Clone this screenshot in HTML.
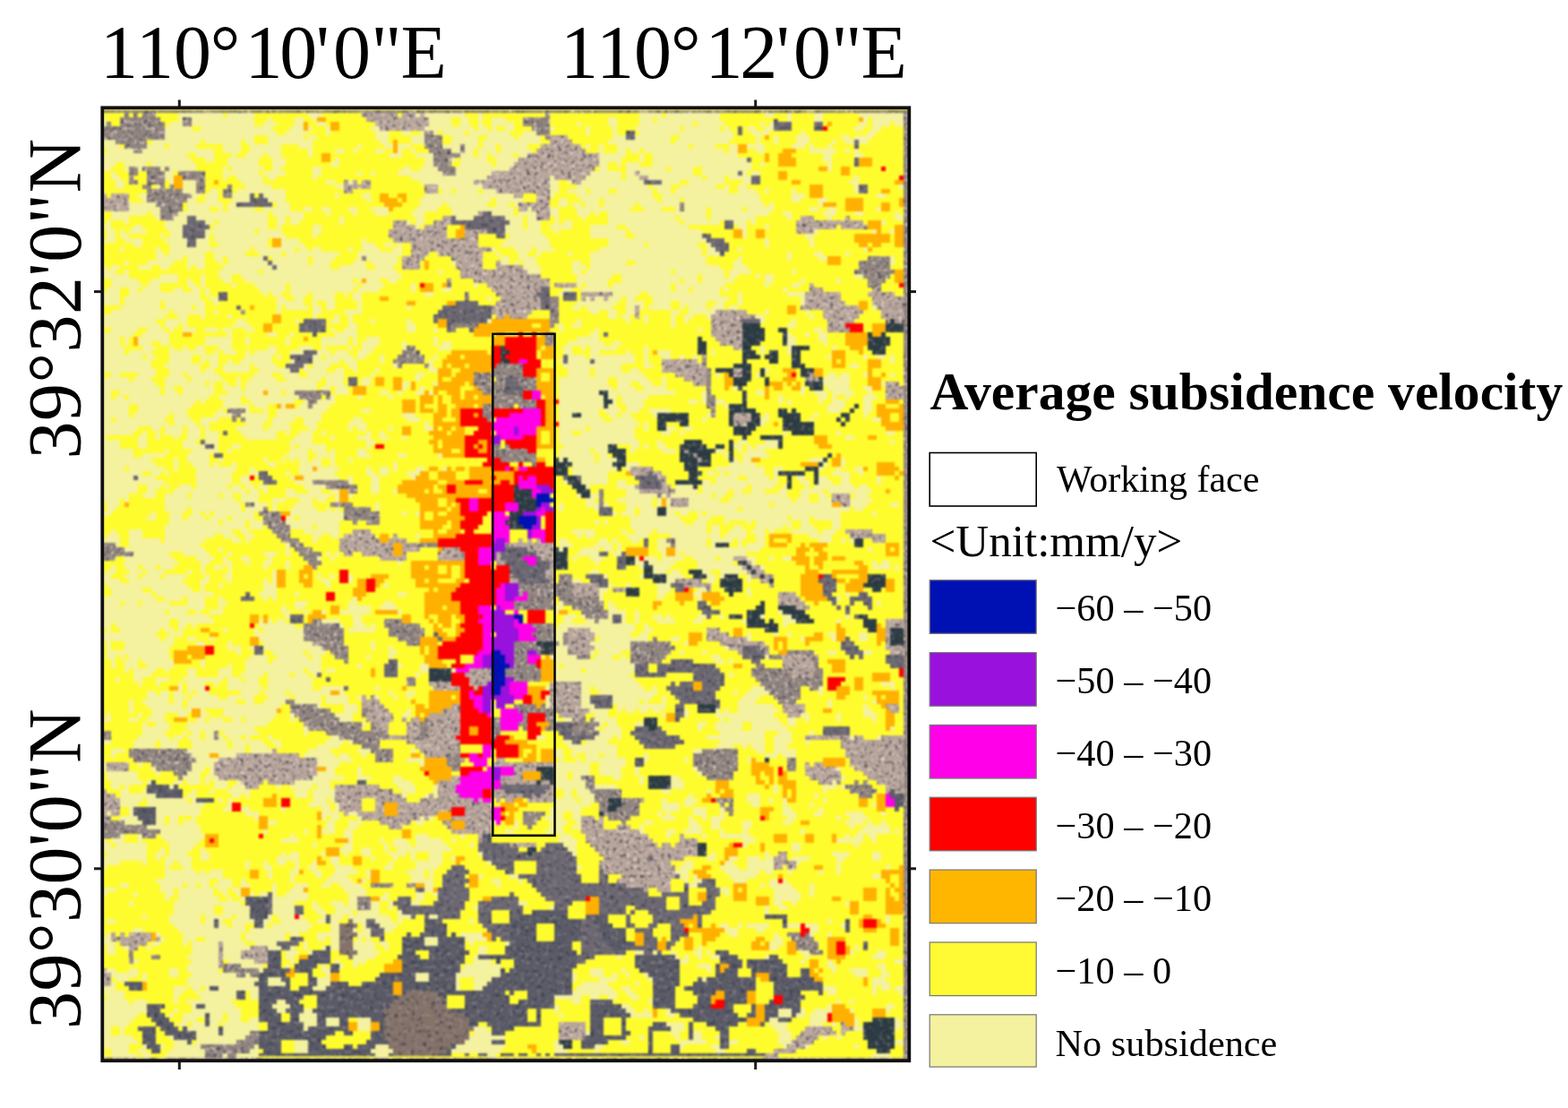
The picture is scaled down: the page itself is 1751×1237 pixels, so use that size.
<!DOCTYPE html>
<html lang="en">
<head>
<meta charset="utf-8">
<title>Average subsidence velocity</title>
<style>
html,body{margin:0;padding:0;background:#fff;}
body{width:1751px;height:1237px;overflow:hidden;}
svg{display:block;}
text{font-family:"Liberation Serif",serif;fill:#000;}
</style>
</head>
<body>
<svg width="1751" height="1237" viewBox="0 0 1751 1237">
<rect x="0" y="0" width="1751" height="1237" fill="#ffffff"/>
<defs>
<filter id="tex" x="0" y="0" width="100%" height="100%" color-interpolation-filters="sRGB">
<feTurbulence type="fractalNoise" baseFrequency="0.26" numOctaves="2" seed="11" result="n"/>
<feColorMatrix in="n" type="matrix" values="0 0 0 0 0.92  0 0 0 0 0.84  0 0 0 0 0.80  3.6 0 0 0 -1.95" result="lt"/>
<feComposite in="lt" in2="SourceGraphic" operator="in" result="l1"/>
<feColorMatrix in="n" type="matrix" values="0 0 0 0 0.22  0 0 0 0 0.23  0 0 0 0 0.28  0 3.6 0 0 -2.0" result="dk"/>
<feComposite in="dk" in2="SourceGraphic" operator="in" result="d1"/>
<feMerge><feMergeNode in="SourceGraphic"/><feMergeNode in="l1"/><feMergeNode in="d1"/></feMerge>
</filter>
<filter id="tex2" x="0" y="0" width="100%" height="100%" color-interpolation-filters="sRGB">
<feTurbulence type="fractalNoise" baseFrequency="0.22" numOctaves="2" seed="23" result="n"/>
<feColorMatrix in="n" type="matrix" values="0 0 0 0 0.62  0 0 0 0 0.58  0 0 0 0 0.58  2.6 0 0 0 -1.45" result="lt"/>
<feComposite in="lt" in2="SourceGraphic" operator="in" result="l1"/>
<feColorMatrix in="n" type="matrix" values="0 0 0 0 0.16  0 0 0 0 0.17  0 0 0 0 0.24  0 2.6 0 0 -1.45" result="dk"/>
<feComposite in="dk" in2="SourceGraphic" operator="in" result="d1"/>
<feMerge><feMergeNode in="SourceGraphic"/><feMergeNode in="l1"/><feMergeNode in="d1"/></feMerge>
</filter>
<filter id="soft" x="-1%" y="-1%" width="102%" height="102%" color-interpolation-filters="sRGB">
<feGaussianBlur stdDeviation="0.9"/>
</filter>
<clipPath id="mapclip"><rect x="114.3" y="120.3" width="901" height="1064.5"/></clipPath>
</defs>
<!-- axis labels -->
<text x="111.9 152.0 193.9 234.8 273.6 312.2 352.7 372.0 414.3 447.4" y="87" font-size="84">110°10'0"E</text>
<text x="625.9 666.1 707.9 748.9 787.6 826.3 866.7 886.0 928.3 961.4" y="87" font-size="84">110°12'0"E</text>
<text transform="translate(90,512.5) rotate(-90)" font-size="84" letter-spacing="0.5">39°32'0"N</text>
<text transform="translate(90,1149) rotate(-90)" font-size="84" letter-spacing="0.5">39°30'0"N</text>
<!-- map -->
<g id="map" clip-path="url(#mapclip)">
<g filter="url(#soft)">
<rect x="108" y="115" width="914" height="1077" fill="#FFFC2E"/>
<g transform="translate(114,123.5) scale(5.0)" stroke-width="1.04" fill="none" shape-rendering="crispEdges">
<path stroke="#F4F19F" d="M17 1h10M28 1h6M46 1h3M70 1h1M72 1h9M84 1h1M120 1h5M126 1h12M148 1h2M153 1h1M159 1h2M169 1h10M0 2h1M17 2h1M20 2h14M37 2h1M43 2h2M47 2h1M73 2h5M80 2h2M84 2h1M87 2h3M113 2h2M120 2h3M124 2h14M153 2h1M159 2h2M170 2h1M172 2h7M0 3h1M15 3h3M20 3h14M36 3h3M43 3h2M48 3h2M73 3h5M80 3h2M84 3h1M87 3h5M106 3h1M113 3h2M120 3h12M133 3h6M147 3h1M149 3h1M169 3h2M172 3h4M177 3h2M14 4h6M22 4h16M42 4h3M46 4h1M50 4h1M60 4h2M72 4h11M84 4h2M87 4h1M90 4h2M100 4h1M108 4h1M114 4h1M119 4h10M130 4h8M139 4h1M144 4h2M148 4h2M168 4h2M172 4h2M14 5h25M41 5h5M50 5h1M61 5h3M67 5h2M71 5h1M74 5h1M76 5h5M82 5h9M94 5h3M108 5h1M114 5h1M120 5h21M145 5h4M156 5h1M171 5h2M14 6h20M37 6h8M46 6h2M61 6h3M69 6h3M78 6h6M86 6h6M93 6h5M114 6h3M119 6h8M129 6h12M146 6h1M150 6h1M155 6h3M165 6h2M168 6h4M0 7h3M11 7h11M23 7h8M32 7h2M37 7h10M62 7h2M69 7h3M78 7h6M85 7h13M113 7h14M128 7h12M146 7h1M150 7h1M155 7h3M163 7h1M166 7h2M169 7h2M0 8h4M10 8h4M15 8h6M27 8h4M33 8h7M44 8h3M57 8h1M63 8h2M66 8h3M76 8h4M81 8h3M85 8h3M89 8h6M108 8h1M111 8h1M115 8h16M132 8h5M140 8h2M144 8h4M154 8h3M158 8h1M162 8h1M1 9h6M9 9h16M27 9h4M33 9h7M46 9h1M52 9h2M56 9h1M61 9h2M66 9h1M69 9h1M78 9h2M81 9h2M84 9h4M89 9h7M111 9h1M115 9h2M118 9h2M121 9h18M140 9h2M146 9h2M158 9h6M166 9h1M168 9h1M0 10h19M21 10h4M29 10h1M32 10h4M37 10h3M46 10h1M64 10h3M70 10h4M80 10h3M84 10h2M87 10h5M93 10h2M111 10h6M120 10h1M123 10h19M161 10h2M168 10h2M0 11h20M23 11h2M28 11h7M38 11h3M52 11h1M72 11h2M78 11h1M80 11h6M88 11h5M111 11h5M120 11h1M123 11h21M161 11h2M0 12h3M5 12h5M11 12h10M28 12h7M38 12h3M51 12h2M72 12h2M80 12h7M88 12h4M111 12h2M115 12h1M117 12h3M123 12h22M147 12h1M162 12h1M0 13h2M5 13h1M8 13h1M13 13h1M15 13h6M27 13h1M29 13h7M38 13h2M47 13h2M67 13h2M71 13h4M79 13h12M111 13h2M117 13h9M127 13h5M134 13h11M162 13h1M2 14h1M14 14h2M27 14h8M36 14h5M47 14h2M57 14h1M60 14h1M66 14h10M79 14h8M109 14h7M117 14h2M120 14h12M134 14h8M143 14h1M145 14h2M2 15h2M14 15h2M27 15h1M30 15h6M37 15h2M47 15h1M69 15h17M100 15h1M108 15h8M117 15h3M122 15h12M135 15h4M140 15h5M168 15h1M3 16h2M15 16h1M18 16h3M31 16h5M50 16h2M55 16h1M71 16h12M100 16h2M104 16h1M107 16h14M125 16h4M131 16h8M143 16h2M167 16h2M3 17h2M12 17h1M18 17h3M32 17h6M52 17h2M75 17h10M100 17h2M106 17h16M123 17h4M129 17h8M139 17h1M142 17h2M168 17h1M178 17h1M18 18h3M24 18h2M30 18h11M76 18h2M79 18h5M85 18h3M100 18h2M104 18h4M109 18h4M115 18h8M124 18h3M128 18h12M142 18h4M148 18h1M154 18h1M168 18h1M8 19h2M20 19h2M23 19h3M29 19h4M36 19h5M52 19h1M58 19h2M72 19h20M100 19h1M106 19h17M125 19h22M154 19h3M173 19h2M9 20h1M19 20h2M23 20h3M29 20h4M37 20h4M59 20h1M71 20h16M88 20h6M102 20h2M107 20h4M112 20h12M125 20h4M130 20h17M154 20h2M160 20h2M6 21h6M19 21h8M28 21h2M39 21h3M71 21h5M77 21h9M88 21h3M92 21h1M102 21h2M105 21h2M108 21h3M112 21h7M120 21h9M130 21h18M149 21h1M160 21h1M6 22h7M19 22h5M26 22h1M28 22h6M36 22h6M45 22h2M49 22h2M55 22h2M60 22h4M70 22h5M78 22h14M95 22h1M100 22h2M106 22h12M121 22h4M128 22h1M130 22h5M136 22h7M144 22h6M158 22h2M162 22h2M173 22h1M2 23h8M11 23h2M17 23h20M38 23h7M50 23h1M56 23h1M61 23h3M69 23h3M78 23h6M87 23h5M93 23h4M100 23h2M106 23h3M110 23h1M113 23h22M136 23h13M152 23h2M161 23h3M168 23h2M177 23h1M2 24h4M12 24h1M16 24h3M21 24h16M39 24h2M42 24h3M53 24h1M70 24h2M79 24h4M90 24h4M95 24h2M101 24h1M107 24h1M113 24h15M129 24h6M136 24h10M153 24h1M162 24h1M177 24h2M1 25h1M5 25h1M14 25h5M23 25h2M26 25h11M39 25h2M42 25h2M53 25h1M68 25h1M70 25h2M91 25h3M95 25h3M101 25h1M103 25h2M113 25h16M130 25h8M141 25h3M145 25h1M174 25h1M0 26h2M7 26h2M14 26h4M25 26h12M39 26h1M47 26h2M70 26h1M90 26h4M95 26h3M100 26h5M109 26h6M117 26h14M142 26h2M148 26h1M1 27h2M4 27h1M6 27h4M15 27h3M23 27h11M35 27h5M47 27h2M90 27h8M101 27h1M109 27h8M118 27h16M143 27h1M159 27h1M172 27h1M176 27h1M1 28h2M4 28h2M13 28h1M15 28h3M23 28h1M25 28h16M47 28h1M91 28h8M109 28h8M119 28h15M143 28h1M157 28h2M0 29h3M5 29h4M14 29h5M21 29h3M25 29h12M40 29h4M58 29h1M90 29h10M113 29h22M148 29h1M158 29h1M7 30h2M15 30h4M21 30h3M26 30h11M40 30h5M58 30h3M63 30h2M66 30h1M89 30h11M113 30h8M122 30h11M135 30h1M148 30h1M158 30h1M4 31h1M12 31h1M15 31h18M34 31h9M44 31h2M47 31h2M55 31h1M58 31h4M65 31h2M87 31h1M92 31h4M97 31h4M111 31h23M135 31h2M142 31h1M170 31h1M12 32h2M15 32h8M25 32h7M35 32h5M41 32h12M57 32h10M88 32h1M93 32h2M97 32h1M104 32h1M109 32h25M135 32h3M153 32h1M159 32h2M166 32h1M12 33h6M19 33h4M25 33h2M28 33h8M38 33h8M47 33h5M57 33h1M59 33h7M89 33h2M93 33h4M109 33h26M142 33h1M153 33h1M160 33h2M176 33h1M5 34h1M10 34h6M19 34h4M26 34h1M28 34h9M38 34h8M47 34h4M56 34h3M60 34h6M78 34h1M89 34h2M92 34h1M94 34h3M105 34h2M109 34h8M119 34h16M141 34h2M176 34h1M0 35h1M2 35h2M8 35h3M13 35h2M19 35h1M21 35h2M27 35h11M39 35h12M53 35h6M61 35h4M94 35h4M105 35h3M109 35h29M141 35h3M0 36h3M5 36h1M26 36h9M36 36h30M75 36h1M95 36h3M105 36h2M108 36h19M128 36h11M140 36h5M154 36h1M0 37h6M13 37h4M22 37h1M26 37h3M31 37h36M106 37h8M116 37h17M134 37h5M140 37h2M146 37h1M148 37h2M168 37h2M2 38h6M11 38h6M19 38h1M22 38h1M27 38h2M32 38h24M57 38h1M59 38h3M64 38h2M106 38h7M116 38h13M130 38h3M134 38h7M148 38h2M156 38h1M164 38h1M2 39h7M10 39h3M19 39h2M22 39h1M29 39h1M34 39h7M42 39h15M58 39h5M69 39h1M83 39h1M106 39h1M108 39h5M114 39h13M128 39h11M148 39h1M154 39h2M1 40h3M6 40h2M9 40h4M16 40h2M20 40h2M23 40h1M35 40h6M42 40h14M57 40h5M69 40h1M76 40h2M103 40h2M107 40h20M128 40h3M132 40h6M139 40h1M152 40h1M0 41h4M6 41h16M23 41h1M36 41h1M38 41h2M42 41h4M47 41h5M54 41h1M56 41h2M72 41h2M102 41h1M114 41h6M122 41h16M142 41h1M153 41h4M0 42h4M5 42h17M24 42h2M39 42h2M43 42h2M47 42h5M56 42h2M86 42h1M108 42h1M110 42h2M113 42h3M117 42h2M123 42h17M142 42h1M156 42h1M0 43h4M5 43h8M14 43h9M25 43h1M39 43h6M47 43h1M50 43h2M57 43h1M106 43h9M117 43h4M123 43h4M129 43h6M137 43h2M142 43h1M156 43h1M4 44h9M14 44h6M21 44h2M39 44h1M41 44h5M47 44h2M50 44h2M57 44h1M68 44h1M105 44h2M108 44h6M117 44h2M120 44h1M122 44h5M129 44h1M131 44h4M136 44h3M140 44h2M172 44h1M2 45h13M16 45h7M25 45h1M39 45h1M47 45h2M54 45h4M109 45h2M113 45h2M117 45h2M127 45h2M131 45h6M148 45h1M157 45h1M0 46h14M17 46h2M22 46h1M28 46h1M47 46h1M52 46h1M55 46h1M113 46h2M116 46h2M121 46h1M127 46h1M130 46h2M135 46h1M146 46h2M158 46h1M0 47h12M14 47h5M30 47h2M43 47h1M51 47h2M55 47h1M60 47h1M68 47h1M86 47h1M106 47h1M117 47h1M121 47h1M127 47h1M130 47h1M147 47h1M154 47h1M0 48h13M14 48h3M18 48h1M29 48h4M55 48h2M68 48h2M102 48h1M105 48h2M127 48h1M153 48h2M2 49h6M10 49h4M15 49h1M18 49h3M23 49h3M27 49h2M32 49h2M51 49h1M54 49h3M68 49h2M74 49h1M102 49h1M110 49h1M133 49h1M159 49h2M0 50h7M9 50h6M28 50h1M37 50h2M42 50h1M52 50h5M109 50h2M153 50h1M157 50h1M160 50h2M0 51h4M5 51h1M8 51h7M23 51h6M32 51h1M41 51h1M49 51h6M56 51h1M59 51h3M74 51h1M106 51h5M153 51h2M160 51h2M0 52h4M5 52h1M8 52h3M13 52h2M23 52h6M32 52h1M41 52h1M49 52h6M56 52h1M58 52h4M67 52h1M74 52h1M76 52h2M104 52h8M114 52h2M153 52h2M161 52h1M0 53h5M9 53h3M15 53h1M18 53h1M21 53h2M26 53h3M37 53h2M44 53h3M49 53h1M55 53h1M58 53h3M67 53h1M75 53h3M103 53h2M107 53h1M109 53h6M121 53h1M147 53h1M153 53h1M163 53h1M0 54h5M6 54h5M15 54h8M25 54h1M27 54h3M32 54h1M34 54h5M42 54h3M48 54h3M52 54h3M57 54h3M103 54h2M109 54h2M117 54h1M121 54h1M124 54h3M136 54h1M147 54h1M153 54h1M0 55h9M10 55h2M15 55h5M22 55h4M32 55h6M39 55h1M47 55h2M50 55h6M57 55h2M62 55h1M74 55h1M104 55h4M109 55h10M121 55h1M125 55h2M129 55h1M132 55h1M162 55h1M170 55h1M173 55h2M176 55h1M0 56h11M15 56h5M22 56h1M24 56h2M28 56h1M31 56h7M42 56h1M47 56h6M54 56h3M62 56h1M73 56h1M102 56h1M104 56h5M110 56h9M121 56h1M176 56h1M0 57h11M14 57h8M24 57h2M27 57h6M34 57h5M45 57h1M47 57h4M55 57h2M65 57h1M73 57h1M103 57h13M121 57h2M167 57h2M0 58h12M15 58h7M23 58h2M27 58h6M35 58h7M45 58h5M52 58h2M56 58h1M61 58h1M73 58h2M104 58h5M110 58h6M118 58h2M148 58h1M2 59h2M8 59h4M15 59h3M19 59h7M34 59h4M40 59h4M46 59h8M60 59h1M70 59h2M104 59h5M110 59h11M137 59h1M146 59h1M162 59h2M165 59h2M170 59h1M176 59h1M0 60h6M7 60h4M14 60h5M20 60h7M30 60h1M33 60h6M41 60h8M50 60h4M58 60h2M70 60h1M102 60h11M115 60h7M125 60h1M161 60h6M0 61h12M14 61h9M24 61h1M27 61h1M30 61h1M32 61h16M50 61h4M58 61h2M67 61h2M74 61h1M102 61h11M115 61h3M120 61h3M125 61h1M161 61h6M174 61h1M0 62h13M14 62h2M18 62h7M27 62h4M32 62h16M49 62h2M52 62h3M67 62h1M71 62h1M102 62h12M115 62h4M121 62h5M141 62h1M156 62h1M162 62h5M170 62h2M0 63h2M4 63h9M14 63h3M18 63h7M28 63h8M37 63h3M41 63h2M52 63h3M62 63h2M66 63h1M70 63h2M73 63h1M102 63h9M113 63h15M134 63h1M146 63h2M156 63h1M159 63h3M163 63h5M171 63h1M0 64h2M3 64h2M6 64h18M26 64h5M32 64h12M51 64h1M57 64h1M64 64h1M102 64h10M113 64h2M116 64h6M134 64h1M151 64h1M160 64h2M163 64h1M166 64h1M170 64h3M0 65h21M22 65h1M27 65h4M33 65h10M45 65h1M48 65h4M102 65h10M114 65h1M116 65h5M131 65h2M134 65h1M137 65h2M151 65h1M153 65h1M160 65h1M163 65h3M170 65h2M0 66h6M8 66h12M27 66h6M34 66h3M40 66h1M44 66h2M47 66h4M102 66h10M113 66h2M117 66h4M139 66h1M162 66h4M170 66h2M0 67h6M8 67h11M26 67h1M32 67h1M36 67h1M39 67h11M58 67h2M102 67h9M112 67h4M117 67h3M122 67h5M162 67h3M170 67h2M0 68h6M7 68h8M16 68h3M25 68h4M31 68h6M39 68h10M67 68h3M102 68h3M107 68h4M113 68h2M116 68h2M123 68h1M135 68h1M148 68h1M159 68h1M170 68h1M0 69h2M3 69h11M16 69h4M22 69h4M32 69h5M38 69h5M45 69h4M56 69h2M68 69h3M102 69h10M114 69h5M134 69h1M147 69h2M158 69h1M172 69h2M0 70h15M16 70h5M22 70h2M32 70h4M38 70h4M45 70h3M55 70h4M72 70h1M102 70h18M121 70h1M147 70h1M0 71h8M11 71h2M14 71h4M19 71h3M23 71h1M30 71h6M37 71h5M46 71h2M55 71h1M57 71h2M64 71h1M72 71h2M102 71h6M109 71h10M121 71h1M126 71h2M130 71h2M0 72h7M9 72h1M12 72h1M14 72h4M19 72h3M23 72h3M31 72h8M41 72h1M44 72h3M49 72h1M59 72h1M62 72h1M102 72h3M107 72h12M125 72h2M129 72h1M152 72h1M164 72h1M175 72h2M0 73h1M8 73h2M12 73h1M16 73h1M19 73h3M23 73h3M32 73h7M43 73h4M51 73h1M57 73h3M62 73h2M67 73h1M102 73h17M166 73h2M0 74h4M8 74h2M18 74h3M23 74h3M42 74h5M59 74h2M102 74h18M124 74h1M142 74h2M148 74h3M176 74h1M0 75h4M8 75h2M18 75h5M25 75h1M29 75h2M42 75h1M44 75h6M59 75h1M103 75h10M118 75h2M121 75h1M124 75h2M141 75h2M144 75h1M146 75h5M0 76h7M14 76h1M20 76h6M28 76h1M42 76h4M47 76h3M51 76h1M57 76h2M102 76h7M110 76h3M118 76h1M125 76h3M137 76h2M142 76h1M144 76h4M0 77h7M9 77h5M19 77h5M41 77h5M48 77h4M57 77h3M66 77h2M75 77h1M102 77h8M111 77h2M139 77h1M143 77h6M0 78h11M16 78h1M19 78h5M26 78h1M36 78h1M40 78h1M42 78h1M44 78h2M47 78h2M51 78h1M55 78h1M102 78h1M104 78h6M111 78h4M141 78h1M143 78h2M158 78h3M165 78h1M0 79h12M16 79h1M20 79h4M25 79h1M29 79h1M37 79h2M44 79h5M51 79h1M65 79h1M105 79h9M117 79h3M140 79h6M161 79h1M165 79h1M0 80h5M6 80h8M16 80h1M21 80h9M33 80h1M44 80h3M48 80h5M59 80h1M62 80h2M65 80h1M70 80h2M76 80h1M105 80h10M117 80h1M137 80h11M150 80h2M160 80h1M164 80h1M168 80h2M0 81h9M11 81h2M14 81h1M21 81h8M33 81h2M41 81h1M44 81h8M59 81h2M62 81h2M68 81h3M105 81h8M135 81h2M138 81h1M140 81h8M150 81h1M163 81h4M169 81h1M0 82h7M8 82h4M21 82h8M31 82h2M42 82h1M45 82h8M55 82h1M60 82h2M69 82h1M107 82h6M137 82h5M144 82h5M150 82h1M155 82h2M160 82h2M165 82h2M173 82h1M0 83h14M21 83h8M31 83h2M43 83h4M55 83h1M60 83h2M103 83h1M107 83h6M115 83h2M134 83h2M137 83h14M156 83h2M160 83h3M165 83h2M173 83h1M0 84h8M10 84h3M14 84h1M17 84h3M21 84h7M29 84h2M32 84h2M35 84h2M45 84h5M60 84h2M108 84h1M115 84h4M128 84h4M134 84h10M145 84h5M152 84h1M157 84h1M159 84h9M169 84h2M0 85h8M10 85h2M16 85h16M33 85h2M36 85h1M41 85h2M46 85h3M51 85h2M60 85h2M65 85h1M117 85h3M128 85h5M134 85h6M141 85h2M145 85h3M151 85h2M156 85h5M162 85h10M0 86h6M9 86h3M14 86h5M20 86h6M27 86h2M31 86h4M41 86h10M52 86h1M55 86h1M106 86h1M109 86h2M117 86h7M125 86h1M127 86h9M137 86h2M141 86h12M156 86h2M160 86h2M168 86h3M0 87h4M5 87h1M14 87h16M31 87h4M38 87h3M44 87h3M48 87h2M52 87h1M108 87h2M115 87h8M124 87h1M126 87h1M131 87h7M140 87h14M155 87h3M160 87h3M167 87h5M1 88h3M14 88h17M34 88h3M38 88h1M43 88h4M61 88h1M102 88h1M108 88h3M112 88h1M117 88h6M124 88h1M126 88h1M131 88h18M150 88h13M167 88h4M176 88h2M1 89h2M14 89h5M20 89h11M32 89h4M38 89h1M42 89h6M50 89h1M52 89h1M61 89h1M102 89h1M110 89h1M117 89h2M120 89h4M126 89h16M143 89h24M168 89h2M0 90h2M11 90h1M15 90h3M20 90h2M23 90h1M25 90h9M42 90h12M67 90h1M70 90h1M114 90h1M116 90h3M120 90h4M126 90h2M129 90h2M133 90h1M135 90h30M172 90h1M10 91h2M15 91h3M19 91h4M24 91h4M29 91h5M41 91h2M44 91h10M118 91h11M133 91h3M139 91h14M154 91h4M159 91h6M15 92h11M27 92h5M33 92h3M41 92h12M110 92h1M112 92h1M118 92h12M132 92h3M139 92h1M144 92h1M146 92h8M156 92h2M163 92h2M14 93h18M33 93h3M42 93h5M48 93h5M118 93h17M136 93h2M141 93h2M146 93h6M153 93h1M156 93h3M163 93h2M2 94h1M6 94h3M14 94h15M31 94h2M45 94h8M105 94h5M116 94h1M119 94h4M124 94h11M136 94h2M140 94h4M145 94h3M149 94h1M154 94h6M161 94h3M1 95h3M6 95h3M14 95h11M27 95h3M32 95h2M47 95h2M51 95h2M70 95h1M106 95h1M108 95h2M117 95h5M127 95h11M139 95h5M146 95h2M158 95h5M0 96h4M6 96h7M14 96h9M29 96h2M32 96h1M47 96h1M102 96h2M111 96h2M114 96h1M118 96h2M124 96h2M128 96h7M136 96h5M142 96h1M146 96h2M160 96h3M165 96h1M167 96h1M3 97h1M6 97h16M41 97h1M102 97h3M110 97h4M115 97h1M124 97h3M128 97h7M136 97h1M142 97h1M144 97h4M5 98h18M26 98h1M41 98h1M102 98h1M107 98h4M112 98h2M115 98h1M124 98h2M128 98h19M171 98h1M7 99h8M18 99h6M28 99h1M36 99h3M41 99h1M50 99h1M52 99h1M106 99h5M114 99h2M125 99h1M128 99h1M130 99h14M5 100h11M21 100h4M27 100h1M31 100h2M37 100h1M48 100h1M51 100h1M105 100h1M109 100h3M119 100h1M121 100h3M125 100h5M132 100h5M138 100h3M144 100h2M149 100h1M152 100h2M5 101h12M22 101h2M27 101h2M32 101h1M36 101h2M41 101h1M66 101h1M110 101h1M119 101h2M122 101h6M133 101h8M145 101h1M172 101h1M174 101h2M2 102h1M5 102h3M9 102h3M13 102h3M22 102h1M25 102h2M28 102h1M36 102h1M41 102h1M120 102h1M123 102h4M133 102h10M147 102h1M172 102h4M177 102h1M1 103h2M6 103h3M10 103h4M19 103h1M22 103h1M28 103h1M38 103h1M109 103h2M123 103h3M127 103h2M134 103h2M138 103h6M0 104h2M5 104h3M9 104h4M14 104h5M23 104h1M27 104h2M38 104h1M48 104h1M51 104h1M55 104h1M112 104h1M120 104h1M126 104h4M135 104h2M138 104h1M144 104h1M0 105h4M6 105h12M22 105h2M28 105h1M36 105h1M38 105h1M49 105h2M55 105h1M105 105h2M126 105h2M135 105h2M144 105h1M1 106h18M22 106h1M26 106h1M36 106h3M50 106h1M63 106h1M113 106h1M117 106h1M124 106h3M2 107h7M11 107h9M22 107h1M36 107h3M111 107h2M124 107h3M133 107h2M144 107h1M2 108h9M12 108h13M35 108h4M43 108h1M66 108h2M111 108h1M124 108h2M132 108h2M144 108h1M166 108h1M0 109h12M14 109h4M19 109h4M26 109h1M36 109h1M38 109h1M56 109h1M111 109h1M124 109h1M133 109h1M164 109h1M0 110h4M5 110h3M9 110h6M19 110h4M26 110h2M43 110h3M55 110h2M63 110h2M102 110h1M113 110h1M173 110h1M0 111h23M26 111h1M40 111h1M43 111h2M55 111h5M62 111h4M101 111h2M113 111h2M0 112h14M15 112h4M21 112h1M24 112h3M40 112h2M45 112h1M49 112h1M53 112h7M66 112h1M101 112h1M113 112h4M119 112h1M151 112h1M0 113h24M41 113h1M56 113h2M103 113h3M107 113h1M113 113h1M116 113h1M119 113h1M123 113h2M126 113h1M133 113h2M138 113h1M147 113h1M152 113h2M166 113h1M0 114h15M17 114h8M35 114h1M37 114h1M39 114h2M49 114h4M56 114h2M103 114h2M108 114h2M111 114h3M116 114h1M119 114h1M124 114h4M132 114h2M143 114h1M152 114h3M164 114h1M0 115h2M3 115h12M17 115h2M20 115h1M35 115h8M53 115h1M56 115h3M60 115h1M102 115h17M121 115h1M152 115h1M1 116h1M4 116h9M14 116h2M17 116h1M27 116h1M34 116h1M36 116h9M55 116h6M101 116h3M109 116h10M121 116h2M0 117h12M15 117h3M34 117h11M101 117h2M110 117h8M120 117h2M144 117h1M150 117h1M153 117h1M162 117h2M169 117h2M0 118h13M14 118h2M19 118h2M24 118h1M35 118h10M101 118h2M111 118h11M127 118h2M144 118h1M156 118h1M163 118h1M169 118h2M1 119h1M5 119h11M21 119h2M28 119h1M36 119h11M60 119h1M102 119h1M109 119h9M130 119h1M1 120h1M5 120h10M28 120h3M33 120h1M36 120h13M60 120h1M64 120h1M101 120h3M110 120h8M139 120h1M1 121h14M30 121h1M38 121h7M46 121h4M64 121h2M101 121h3M109 121h1M111 121h5M129 121h1M134 121h1M162 121h2M170 121h2M1 122h2M4 122h1M6 122h9M33 122h4M39 122h7M47 122h2M59 122h1M64 122h1M100 122h6M110 122h4M116 122h1M136 122h2M148 122h1M2 123h1M5 123h3M9 123h7M22 123h1M32 123h5M38 123h11M101 123h17M137 123h2M140 123h1M2 124h1M5 124h3M10 124h6M22 124h1M28 124h1M32 124h17M57 124h1M66 124h1M71 124h2M101 124h1M103 124h16M5 125h1M7 125h5M14 125h1M19 125h2M26 125h3M32 125h13M46 125h3M50 125h2M71 125h2M78 125h1M101 125h6M108 125h11M7 126h4M19 126h2M26 126h3M31 126h5M37 126h5M43 126h3M47 126h1M70 126h1M101 126h17M140 126h1M3 127h1M7 127h2M12 127h3M18 127h9M28 127h3M32 127h3M37 127h10M101 127h18M8 128h1M12 128h1M17 128h1M19 128h4M25 128h1M28 128h7M37 128h10M107 128h13M174 128h3M17 129h1M19 129h4M28 129h8M37 129h10M49 129h5M61 129h1M99 129h1M107 129h2M110 129h11M123 129h1M145 129h3M160 129h1M176 129h1M10 130h2M13 130h2M16 130h2M19 130h1M21 130h3M31 130h4M36 130h5M42 130h9M53 130h1M64 130h1M68 130h2M107 130h2M111 130h13M141 130h1M144 130h5M160 130h1M10 131h5M16 131h3M20 131h6M28 131h6M37 131h5M43 131h6M50 131h5M57 131h1M61 131h1M65 131h1M68 131h1M99 131h1M107 131h2M114 131h9M125 131h1M143 131h4M170 131h1M6 132h1M9 132h6M16 132h2M19 132h11M32 132h2M36 132h5M43 132h6M50 132h5M99 132h1M107 132h2M114 132h6M121 132h1M125 132h1M142 132h4M162 132h1M172 132h1M6 133h1M10 133h8M19 133h21M48 133h1M54 133h3M87 133h1M99 133h1M107 133h3M115 133h11M142 133h8M162 133h1M170 133h1M6 134h1M11 134h9M22 134h1M27 134h12M54 134h3M68 134h1M109 134h4M115 134h1M117 134h2M120 134h2M123 134h2M130 134h1M137 134h1M139 134h1M142 134h9M170 134h2M1 135h1M8 135h1M11 135h3M17 135h2M22 135h2M27 135h12M42 135h1M52 135h4M67 135h2M110 135h3M125 135h1M130 135h1M137 135h13M156 135h2M164 135h1M170 135h3M0 136h2M6 136h2M10 136h4M21 136h2M24 136h3M29 136h2M32 136h6M42 136h1M53 136h3M101 136h1M103 136h2M110 136h5M138 136h1M140 136h11M153 136h2M157 136h1M164 136h1M172 136h1M9 137h1M12 137h3M19 137h18M58 137h1M111 137h1M113 137h2M119 137h2M133 137h2M137 137h6M145 137h7M153 137h2M9 138h6M19 138h15M45 138h1M110 138h1M112 138h4M133 138h1M137 138h6M145 138h8M176 138h1M9 139h5M18 139h1M20 139h2M23 139h2M27 139h8M45 139h1M111 139h5M138 139h10M151 139h3M158 139h1M8 140h7M16 140h2M19 140h3M23 140h2M26 140h1M28 140h3M32 140h1M37 140h1M51 140h2M97 140h2M110 140h4M115 140h1M135 140h13M150 140h4M167 140h1M173 140h1M0 141h2M7 141h5M13 141h4M20 141h8M29 141h7M38 141h2M50 141h4M55 141h1M103 141h2M108 141h5M138 141h10M150 141h4M157 141h1M7 142h5M13 142h4M20 142h8M29 142h3M33 142h4M39 142h1M48 142h5M104 142h11M137 142h4M143 142h1M145 142h3M150 142h3M2 143h3M19 143h13M33 143h5M46 143h5M57 143h3M69 143h1M101 143h2M105 143h10M132 143h2M146 143h2M150 143h5M2 144h1M20 144h4M26 144h4M45 144h7M53 144h2M58 144h1M101 144h2M105 144h1M108 144h3M112 144h3M121 144h1M148 144h3M152 144h3M21 145h5M48 145h8M68 145h4M102 145h1M106 145h1M108 145h9M121 145h1M130 145h1M144 145h1M0 146h1M8 146h1M20 146h5M48 146h5M71 146h1M101 146h8M111 146h6M0 147h1M11 147h1M20 147h3M24 147h1M50 147h2M57 147h1M101 147h8M111 147h5M119 147h1M132 147h1M164 147h1M1 148h7M12 148h1M19 148h3M24 148h1M48 148h4M57 148h1M101 148h3M105 148h4M111 148h5M119 148h1M133 148h1M1 149h7M18 149h4M23 149h3M47 149h7M57 149h3M65 149h2M101 149h3M105 149h2M114 149h2M120 149h1M127 149h2M165 149h1M2 150h7M10 150h1M16 150h2M19 150h3M23 150h1M25 150h3M30 150h1M43 150h8M65 150h4M101 150h7M120 150h1M127 150h3M163 150h1M2 151h2M5 151h1M15 151h1M25 151h3M29 151h3M39 151h1M42 151h5M48 151h3M66 151h4M74 151h1M101 151h7M110 151h5M127 151h3M150 151h1M161 151h3M165 151h1M4 152h2M9 152h1M20 152h1M24 152h1M28 152h5M43 152h3M47 152h5M67 152h3M74 152h1M103 152h2M106 152h3M125 152h2M135 152h1M150 152h1M161 152h1M4 153h8M19 153h2M29 153h2M32 153h1M43 153h3M47 153h5M67 153h1M72 153h1M74 153h1M103 153h2M106 153h4M131 153h1M144 153h3M159 153h1M4 154h5M10 154h9M20 154h1M26 154h1M28 154h1M47 154h3M51 154h1M101 154h5M107 154h3M125 154h1M130 154h3M144 154h3M149 154h1M152 154h1M161 154h1M4 155h4M10 155h13M28 155h1M46 155h5M52 155h1M101 155h8M125 155h4M130 155h2M145 155h2M152 155h1M158 155h1M172 155h1M6 156h1M12 156h10M27 156h2M31 156h2M40 156h1M49 156h2M52 156h1M100 156h7M125 156h4M132 156h3M138 156h1M152 156h2M160 156h1M1 157h1M6 157h1M12 157h10M32 157h3M49 157h4M55 157h2M100 157h3M105 157h2M124 157h1M126 157h1M132 157h3M138 157h1M152 157h3M159 157h2M166 157h4M174 157h1M4 158h4M12 158h2M15 158h2M20 158h1M34 158h1M49 158h1M51 158h2M57 158h1M71 158h1M73 158h1M99 158h4M105 158h2M125 158h3M131 158h1M134 158h1M136 158h3M153 158h2M164 158h1M167 158h4M5 159h4M12 159h2M15 159h2M18 159h3M37 159h2M50 159h2M55 159h3M70 159h2M87 159h1M92 159h1M100 159h4M106 159h1M121 159h2M131 159h2M136 159h2M143 159h2M152 159h2M166 159h4M171 159h1M174 159h1M10 160h12M50 160h2M55 160h2M92 160h1M100 160h3M105 160h2M120 160h1M131 160h3M136 160h2M143 160h2M167 160h1M170 160h6M13 161h9M36 161h1M45 161h1M49 161h3M54 161h2M90 161h2M99 161h4M120 161h1M126 161h2M130 161h4M138 161h1M143 161h1M156 161h1M169 161h7M177 161h1M4 162h1M8 162h1M13 162h10M42 162h1M54 162h2M70 162h3M80 162h1M102 162h3M126 162h1M134 162h1M138 162h7M166 162h1M168 162h2M171 162h2M0 163h1M2 163h3M8 163h1M14 163h8M40 163h4M55 163h1M62 163h1M65 163h3M70 163h6M78 163h1M102 163h4M143 163h3M164 163h6M172 163h1M0 164h2M3 164h7M15 164h6M47 164h1M54 164h2M63 164h1M65 164h4M70 164h7M82 164h1M103 164h3M143 164h1M154 164h2M168 164h1M0 165h10M13 165h1M15 165h5M22 165h1M53 165h3M58 165h2M63 165h1M66 165h12M104 165h2M154 165h2M1 166h9M12 166h2M15 166h4M22 166h2M40 166h1M42 166h2M49 166h1M54 166h1M58 166h2M64 166h4M69 166h1M73 166h3M84 166h1M105 166h1M136 166h1M148 166h1M163 166h4M172 166h2M0 167h10M12 167h1M14 167h6M22 167h2M39 167h5M51 167h2M60 167h1M65 167h1M69 167h1M73 167h3M78 167h1M135 167h2M140 167h2M144 167h3M148 167h2M154 167h4M164 167h2M172 167h2M0 168h4M9 168h1M14 168h2M17 168h3M32 168h1M36 168h1M39 168h2M43 168h1M47 168h1M51 168h2M64 168h1M70 168h6M86 168h1M130 168h2M139 168h2M144 168h6M155 168h1M164 168h1M0 169h1M14 169h1M18 169h2M32 169h1M36 169h2M43 169h1M46 169h2M52 169h4M63 169h2M70 169h5M106 169h1M129 169h3M138 169h4M144 169h6M164 169h1M175 169h1M14 170h7M22 170h1M24 170h3M37 170h1M42 170h2M47 170h2M52 170h5M59 170h1M68 170h4M73 170h1M128 170h3M139 170h8M148 170h2M153 170h1M160 170h1M164 170h1M14 171h13M37 171h1M42 171h1M48 171h1M51 171h4M59 171h1M69 171h3M73 171h1M84 171h1M91 171h2M129 171h2M132 171h1M140 171h6M172 171h2M12 172h12M26 172h3M31 172h1M42 172h1M50 172h6M58 172h1M69 172h5M87 172h2M93 172h1M130 172h1M132 172h2M141 172h3M149 172h2M152 172h1M4 173h2M13 173h5M19 173h2M22 173h2M25 173h4M31 173h2M38 173h1M43 173h3M49 173h2M53 173h5M72 173h2M88 173h1M131 173h2M147 173h1M149 173h5M158 173h1M0 174h3M13 174h3M17 174h8M26 174h2M29 174h2M38 174h1M42 174h3M54 174h5M72 174h2M138 174h2M150 174h5M158 174h1M0 175h1M7 175h1M14 175h2M17 175h8M27 175h1M30 175h1M33 175h1M35 175h2M38 175h1M41 175h5M55 175h4M63 175h1M70 175h2M74 175h1M139 175h1M150 175h6M158 175h1M14 176h1M17 176h9M28 176h1M31 176h1M38 176h8M55 176h2M62 176h2M70 176h2M150 176h6M6 177h1M16 177h15M38 177h5M47 177h1M51 177h3M55 177h2M60 177h2M64 177h1M69 177h2M93 177h2M150 177h2M154 177h1M166 177h1M16 178h9M27 178h6M38 178h5M47 178h2M52 178h5M60 178h2M64 178h1M83 178h1M100 178h1M148 178h1M151 178h2M16 179h9M27 179h6M38 179h5M48 179h2M52 179h4M57 179h5M66 179h1M148 179h1M9 180h1M15 180h7M23 180h6M30 180h3M37 180h1M39 180h4M44 180h1M49 180h1M51 180h3M55 180h9M66 180h3M73 180h2M175 180h1M1 181h2M15 181h7M23 181h2M26 181h1M29 181h5M36 181h2M40 181h6M48 181h2M51 181h2M56 181h3M61 181h4M66 181h1M82 181h1M162 181h1M175 181h1M16 182h9M26 182h2M29 182h3M36 182h1M38 182h9M51 182h2M58 182h1M62 182h4M138 182h2M142 182h1M144 182h5M153 182h3M157 182h3M165 182h1M7 183h2M17 183h15M33 183h13M51 183h2M56 183h1M58 183h2M63 183h2M139 183h3M146 183h2M158 183h2M1 184h1M12 184h1M18 184h13M32 184h9M42 184h2M48 184h5M57 184h3M80 184h5M140 184h2M150 184h1M158 184h1M162 184h1M0 185h2M13 185h1M18 185h3M23 185h8M32 185h9M48 185h2M51 185h2M57 185h1M59 185h1M72 185h3M81 185h5M150 185h2M0 186h3M11 186h2M18 186h1M20 186h6M27 186h5M34 186h5M45 186h1M51 186h2M56 186h5M62 186h2M72 186h3M82 186h1M90 186h1M149 186h3M1 187h2M5 187h1M10 187h1M20 187h6M27 187h6M37 187h3M42 187h1M45 187h1M49 187h1M51 187h2M56 187h5M63 187h1M84 187h2M133 187h1M149 187h2M168 187h1M1 188h2M20 188h6M27 188h4M41 188h3M46 188h1M57 188h5M84 188h2M119 188h2M123 188h1M127 188h1M132 188h2M135 188h1M156 188h2M167 188h1M173 188h2M19 189h7M27 189h4M41 189h2M56 189h5M83 189h1M115 189h1M128 189h1M130 189h1M133 189h1M136 189h2M148 189h1M157 189h1M172 189h3M7 190h1M20 190h6M28 190h6M42 190h1M52 190h1M56 190h3M83 190h4M129 190h2M156 190h1M162 190h1M177 190h2M19 191h7M31 191h5M41 191h1M49 191h1M53 191h1M56 191h1M81 191h8M133 191h3M162 191h2M173 191h2M1 192h2M6 192h2M15 192h2M19 192h7M35 192h1M49 192h2M80 192h9M109 192h3M116 192h1M135 192h1M163 192h1M167 192h4M174 192h1M2 193h6M9 193h1M15 193h2M20 193h10M32 193h1M50 193h1M70 193h3M79 193h10M105 193h1M109 193h3M114 193h1M117 193h1M121 193h1M168 193h3M174 193h2M3 194h3M9 194h1M19 194h16M37 194h3M48 194h3M70 194h3M79 194h1M83 194h4M105 194h1M111 194h4M122 194h1M134 194h1M172 194h3M2 195h1M19 195h15M37 195h4M48 195h3M79 195h1M83 195h3M107 195h6M119 195h1M172 195h4M0 196h3M16 196h3M20 196h2M23 196h1M26 196h9M47 196h3M79 196h1M83 196h2M106 196h8M116 196h2M161 196h3M172 196h1M174 196h2M177 196h2M0 197h5M16 197h2M21 197h9M33 197h2M105 197h10M117 197h2M162 197h2M172 197h1M178 197h1M1 198h4M16 198h1M22 198h8M33 198h2M101 198h6M109 198h2M113 198h2M118 198h2M0 199h6M7 199h3M16 199h1M19 199h10M39 199h2M105 199h2M122 199h1M164 199h1M167 199h1M0 200h10M20 200h1M23 200h7M38 200h4M101 200h1M116 200h2M162 200h1M175 200h2M0 201h10M16 201h1M20 201h11M39 201h2M45 201h2M101 201h1M117 201h2M121 201h1M126 201h1M151 201h3M156 201h1M159 201h4M167 201h1M175 201h1M0 202h8M15 202h1M18 202h5M24 202h3M28 202h3M44 202h4M102 202h1M118 202h5M126 202h2M151 202h3M155 202h2M158 202h4M0 203h7M18 203h3M24 203h3M28 203h3M33 203h2M44 203h4M50 203h3M57 203h3M149 203h2M158 203h4M168 203h1M177 203h1M0 204h6M17 204h2M20 204h3M24 204h2M27 204h8M45 204h3M50 204h3M57 204h3M126 204h4M149 204h4M158 204h3M163 204h1M168 204h1M177 204h2M0 205h2M4 205h1M19 205h7M27 205h8M45 205h1M57 205h3M83 205h3M127 205h3M150 205h3M168 205h2M177 205h1M0 206h2M4 206h1M21 206h5M27 206h6M83 206h4M108 206h1M127 206h2M132 206h2M151 206h3M0 207h7M15 207h1M21 207h11M82 207h8M120 207h1M128 207h1M132 207h2M137 207h1M151 207h3M161 207h1M164 207h1M0 208h8M16 208h3M21 208h9M43 208h3M81 208h6M101 208h1M116 208h2M129 208h6M140 208h2M151 208h3M177 208h2M0 209h6M9 209h1M13 209h1M16 209h6M34 209h1M43 209h3M61 209h3M79 209h11M101 209h2M110 209h2M129 209h1M136 209h2M152 209h1M157 209h1M168 209h1M2 210h4M8 210h2M15 210h8M33 210h2M43 210h3M60 210h5M78 210h11M101 210h3M110 210h1M137 210h2M0 211h1M2 211h6M9 211h2M14 211h9M27 211h1M30 211h5M61 211h3M86 211h2M172 211h4"/>
</g>
<g filter="url(#tex)"><g transform="translate(114,123.5) scale(5.0)" stroke-width="1.04" fill="none" shape-rendering="crispEdges">
<path stroke="#90847F" d="M0 0h181M5 1h1M7 1h1M9 1h3M99 1h1M179 1h2M4 2h9M18 2h2M94 2h6M179 2h2M1 3h1M4 3h10M18 3h2M94 3h6M179 3h2M0 4h14M96 4h4M179 4h2M0 5h14M72 5h2M97 5h3M179 5h2M0 6h14M72 6h4M99 6h1M179 6h2M3 7h7M72 7h4M179 7h2M5 8h5M72 8h4M80 8h1M179 8h2M7 9h2M73 9h5M80 9h1M179 9h2M74 10h6M179 10h2M74 11h4M179 11h2M74 12h4M179 12h2M6 13h2M9 13h4M14 13h1M75 13h4M179 13h2M6 14h2M10 14h4M17 14h6M76 14h3M179 14h2M6 15h1M10 15h4M18 15h5M179 15h2M6 16h2M10 16h4M21 16h2M179 16h2M9 17h2M13 17h1M15 17h1M21 17h2M28 17h1M179 17h2M10 18h8M21 18h2M27 18h2M179 18h2M10 19h10M27 19h2M179 19h2M10 20h9M179 20h2M12 21h6M129 21h1M179 21h2M13 22h5M129 22h1M179 22h2M13 23h4M179 23h2M13 24h3M179 24h2M179 25h2M179 26h2M179 27h2M179 28h2M179 29h2M179 30h2M179 31h2M179 32h2M58 33h1M171 33h5M179 33h2M169 34h7M179 34h2M169 35h7M179 35h2M168 36h9M179 36h2M170 37h6M179 37h2M77 38h1M171 38h4M179 38h2M77 39h1M171 39h3M179 39h2M173 40h1M179 40h2M81 41h1M179 41h2M81 42h1M100 42h2M179 42h2M100 43h2M179 43h2M30 44h1M100 44h2M179 44h2M31 45h1M100 45h2M179 45h2M100 46h2M179 46h2M100 47h2M179 47h2M78 48h6M100 48h1M179 48h2M78 49h1M179 49h2M99 50h2M179 50h2M99 51h2M179 51h2M99 52h2M179 52h2M68 53h2M179 53h2M67 54h4M179 54h2M66 55h6M134 55h1M179 55h2M65 56h7M134 56h1M179 56h2M66 57h1M72 57h1M88 57h6M134 57h1M179 57h2M87 58h7M135 58h1M179 58h2M83 59h11M135 59h1M179 59h2M83 60h4M88 60h2M93 60h4M135 60h1M179 60h2M83 61h7M93 61h4M135 61h1M179 61h2M84 62h6M94 62h3M135 62h1M179 62h2M43 63h8M85 63h5M92 63h1M135 63h1M179 63h2M44 64h5M50 64h1M87 64h7M135 64h2M179 64h2M46 65h2M87 65h10M135 65h2M179 65h2M46 66h1M85 66h7M93 66h4M135 66h2M179 66h2M28 67h4M85 67h2M136 67h1M179 67h2M29 68h2M85 68h2M136 68h1M179 68h2M29 69h1M31 69h1M86 69h1M179 69h2M179 70h2M179 71h2M179 72h2M179 73h2M179 74h2M87 75h2M90 75h1M179 75h2M87 76h8M179 76h2M87 77h10M179 77h2M89 78h8M179 78h2M96 79h1M179 79h2M179 80h2M179 81h2M179 82h2M47 83h8M179 83h2M50 84h7M179 84h2M55 85h2M111 85h1M179 85h2M111 86h1M179 86h2M111 87h1M179 87h2M32 88h2M51 88h5M111 88h1M179 88h2M36 89h1M54 89h6M179 89h2M35 90h5M54 90h8M179 90h2M36 91h4M54 91h8M179 91h2M36 92h5M56 92h1M59 92h3M179 92h2M37 93h5M179 93h2M38 94h4M179 94h2M39 95h3M179 95h2M40 96h4M126 96h2M179 96h2M0 97h3M42 97h3M71 97h4M127 97h1M179 97h2M0 98h5M43 98h4M179 98h2M0 99h7M44 99h5M179 99h2M0 100h3M45 100h3M179 100h2M46 101h3M179 101h2M47 102h1M179 102h2M179 103h2M102 104h3M179 104h2M102 105h3M179 105h2M93 106h12M179 106h2M93 107h12M179 107h2M93 108h1M95 108h10M179 108h2M95 109h6M102 109h9M179 109h2M92 110h9M103 110h9M179 110h2M92 111h9M105 111h7M179 111h2M107 112h6M179 112h2M108 113h5M179 113h2M47 114h2M63 114h4M110 114h1M179 114h2M45 115h7M63 115h8M96 115h5M179 115h2M45 116h9M64 116h8M97 116h4M179 116h2M45 117h9M64 117h8M96 117h5M103 117h1M179 117h2M45 118h9M66 118h5M97 118h4M103 118h1M123 118h1M179 118h2M50 119h4M68 119h3M92 119h5M101 119h1M103 119h1M118 119h9M179 119h2M50 120h5M92 120h6M118 120h10M179 120h2M51 121h4M92 121h3M97 121h1M104 121h1M118 121h9M153 121h6M179 121h2M52 122h3M92 122h3M106 122h3M118 122h8M149 122h3M158 122h2M179 122h2M54 123h1M92 123h3M118 123h7M159 123h1M179 123h2M92 124h5M146 124h2M159 124h1M179 124h2M90 125h8M145 125h8M159 125h2M179 125h2M90 126h8M145 126h9M159 126h2M179 126h2M68 127h2M92 127h6M146 127h15M179 127h2M68 128h2M147 128h14M179 128h2M148 129h8M158 129h2M179 129h2M101 130h1M149 130h7M179 130h2M150 131h6M179 131h2M41 132h2M151 132h4M179 132h2M42 133h6M92 133h5M98 133h1M179 133h2M42 134h9M58 134h1M93 134h9M179 134h2M43 135h9M58 135h1M94 135h1M99 135h2M179 135h2M44 136h9M72 136h1M87 136h2M94 136h1M99 136h2M105 136h1M107 136h1M109 136h1M179 136h2M46 137h12M60 137h1M71 137h2M87 137h2M93 137h2M100 137h1M105 137h6M179 137h2M48 138h10M60 138h1M71 138h2M87 138h2M94 138h1M99 138h2M105 138h5M179 138h2M0 139h2M25 139h1M50 139h13M71 139h2M87 139h2M105 139h2M108 139h2M179 139h2M0 140h2M25 140h1M53 140h11M71 140h2M87 140h1M179 140h2M56 141h6M179 141h2M58 142h4M179 142h2M6 143h13M60 143h5M134 143h8M179 143h2M6 144h14M61 144h4M77 144h3M132 144h10M179 144h2M7 145h14M61 145h4M77 145h3M132 145h10M153 145h2M179 145h2M11 146h9M77 146h3M132 146h10M153 146h2M179 146h2M12 147h8M78 147h2M133 147h9M153 147h2M179 147h2M16 148h3M134 148h7M179 148h2M17 149h1M107 149h3M135 149h6M179 149h2M108 150h2M168 150h1M170 150h1M179 150h2M108 151h2M166 151h6M179 151h2M109 152h7M167 152h6M179 152h2M110 153h6M169 153h3M179 153h2M110 154h3M116 154h5M137 154h4M179 154h2M111 155h2M116 155h4M138 155h1M140 155h1M179 155h2M111 156h2M115 156h5M139 156h2M179 156h2M94 157h5M112 157h8M140 157h1M179 157h2M0 158h2M94 158h4M113 158h5M179 158h2M0 159h5M94 159h3M116 159h1M179 159h2M0 160h10M95 160h1M179 160h2M0 161h13M179 161h2M0 162h4M9 162h3M179 162h2M179 163h2M179 164h2M179 165h2M179 166h2M179 167h2M179 168h2M179 169h2M179 170h2M179 171h2M179 172h2M60 173h5M68 173h2M179 173h2M179 174h2M179 175h2M57 176h3M179 176h2M57 177h3M179 177h2M57 178h3M179 178h2M179 179h2M179 180h2M179 181h2M179 182h2M179 183h2M153 184h3M157 184h1M179 184h2M154 185h5M179 185h2M155 186h5M179 186h2M155 187h5M179 187h2M6 188h1M158 188h3M179 188h2M6 189h1M11 189h2M179 189h2M6 190h1M179 190h2M27 191h4M179 191h2M27 192h8M179 192h2M30 193h2M33 193h2M179 193h2M179 194h2M179 195h2M179 196h2M179 197h2M179 198h2M179 199h2M179 200h2M179 201h2M179 202h2M179 203h2M179 204h2M179 205h2M33 206h2M179 206h2M32 207h3M179 207h2M30 208h5M179 208h2M22 209h12M179 209h2M23 210h10M179 210h2M23 211h4M28 211h2M179 211h2M0 212h181"/>
<path stroke="#B8A59B" d="M58 1h8M67 1h3M71 1h1M59 2h14M61 3h12M62 4h10M100 6h4M100 7h5M98 8h9M97 9h11M95 10h16M93 11h18M92 12h19M91 13h19M87 14h22M119 14h1M86 15h14M101 15h7M120 15h2M54 16h1M56 16h1M58 16h2M83 16h17M105 16h2M54 17h6M72 17h3M85 17h15M54 18h2M72 18h3M88 18h12M0 19h1M2 19h4M92 19h2M97 19h3M0 20h6M97 20h3M0 21h6M93 21h7M0 22h6M93 22h2M96 22h4M84 23h1M97 23h3M76 24h2M97 24h3M156 24h3M166 24h1M65 25h3M74 25h4M155 25h15M65 26h5M72 26h5M155 26h9M165 26h6M64 27h13M81 27h5M155 27h4M64 28h13M81 28h3M65 29h19M69 30h15M69 31h18M69 32h4M75 32h10M67 33h5M78 33h7M67 34h4M79 34h6M88 34h1M67 35h4M79 35h6M88 35h6M80 36h15M80 37h18M83 38h17M86 39h14M101 39h5M158 39h1M87 40h11M158 40h3M172 40h1M88 41h9M107 41h7M157 41h8M171 41h6M89 42h9M107 42h1M109 42h1M112 42h1M157 42h8M172 42h7M88 43h10M157 43h9M172 43h7M87 44h11M119 44h1M156 44h13M173 44h6M87 45h9M119 45h1M137 45h7M161 45h9M174 45h5M88 46h2M91 46h4M119 46h1M136 46h10M161 46h8M174 46h5M136 47h7M162 47h6M175 47h1M177 47h2M136 48h7M162 48h4M136 49h7M162 49h5M136 50h7M137 51h6M138 52h5M141 53h2M125 56h8M125 57h9M125 58h10M141 58h2M128 59h7M141 59h2M158 59h1M130 60h5M157 60h3M132 61h3M175 61h3M175 62h4M175 63h4M175 64h4M141 68h4M141 69h4M141 70h3M130 76h1M132 77h1M133 78h1M118 80h5M118 81h4M123 81h2M124 82h2M125 83h1M119 84h1M125 84h2M120 85h8M124 86h1M126 86h1M163 86h4M127 87h4M163 87h4M127 88h4M165 88h2M56 94h4M166 94h6M54 95h7M65 95h1M167 95h8M53 96h9M64 96h4M93 96h1M95 96h1M97 96h1M172 96h3M53 97h12M67 97h4M90 97h11M53 98h12M67 98h4M76 98h4M95 98h6M54 99h2M58 99h7M67 99h1M75 99h6M88 99h1M97 99h4M62 100h6M75 100h6M88 100h1M98 100h3M141 100h3M88 101h2M100 101h1M144 101h1M100 102h1M143 102h1M145 102h2M99 103h2M144 103h1M146 103h2M91 104h1M99 104h2M145 104h2M148 104h2M91 105h2M100 105h1M128 105h6M147 105h2M105 106h6M130 106h6M149 106h1M105 107h6M114 107h3M135 107h1M105 108h6M151 108h4M151 109h5M151 110h6M155 111h3M175 114h4M175 115h4M104 116h5M135 116h3M175 116h1M104 117h6M135 117h5M175 117h1M104 118h6M135 118h9M175 118h1M47 119h3M104 119h5M138 119h10M175 119h1M49 120h1M104 120h6M140 120h3M147 120h2M175 120h4M105 121h4M142 121h1M148 121h1M176 121h3M152 122h6M152 123h7M152 124h7M82 125h5M153 125h6M81 126h6M154 126h5M82 127h5M73 128h5M82 128h4M100 128h7M74 129h6M83 129h1M100 129h7M100 130h1M102 130h5M58 131h1M60 131h1M100 131h7M58 132h4M100 132h7M58 133h5M78 133h2M100 133h7M152 133h5M175 133h3M59 134h5M76 134h4M102 134h7M152 134h5M176 134h2M59 135h6M73 135h7M102 135h6M153 135h3M59 136h6M67 136h1M69 136h2M73 136h7M106 136h1M45 137h1M61 137h3M68 137h3M73 137h7M46 138h2M61 138h3M68 138h3M73 138h7M63 139h1M68 139h3M73 139h7M64 140h7M73 140h6M157 140h10M168 140h2M174 140h5M68 141h12M165 141h14M70 142h10M165 142h14M38 143h1M71 143h9M166 143h13M30 144h14M72 144h5M166 144h13M26 145h22M80 145h1M88 145h2M167 145h12M1 146h5M25 146h23M87 146h14M157 146h1M159 146h2M167 146h12M1 147h5M25 147h23M92 147h5M157 147h7M168 147h11M25 148h23M92 148h2M157 148h8M170 148h9M26 149h21M78 149h2M89 149h5M158 149h7M171 149h8M31 150h5M37 150h6M75 150h5M89 150h8M98 150h2M160 150h3M164 150h1M173 150h6M32 151h3M52 151h10M75 151h4M100 151h1M175 151h4M0 152h1M52 152h13M75 152h4M87 152h3M99 152h2M175 152h1M177 152h2M0 153h3M52 153h15M73 153h1M75 153h5M87 153h7M96 153h1M98 153h3M0 154h4M52 154h6M61 154h7M71 154h12M84 154h1M88 154h1M90 154h2M95 154h6M0 155h4M53 155h5M61 155h2M66 155h21M0 156h4M53 156h5M61 156h2M66 156h12M81 156h6M0 157h1M2 157h2M54 157h1M57 157h6M66 157h9M81 157h6M58 158h13M72 158h1M78 158h9M107 158h3M111 158h1M62 159h7M76 159h2M81 159h6M107 159h5M64 160h3M77 160h1M81 160h6M107 160h5M115 160h3M78 161h9M107 161h13M84 162h1M108 162h14M129 162h1M84 163h1M108 163h15M129 163h4M91 164h6M109 164h15M125 164h2M128 164h5M110 165h23M111 166h22M151 166h2M112 167h10M123 167h7M150 167h3M111 168h16M150 168h5M111 169h17M150 169h2M153 169h2M112 170h16M116 171h12M115 172h12M117 173h10M121 174h1M124 174h3M2 184h1M4 184h1M6 184h5M2 185h9M12 185h1M4 186h6M26 186h1M6 187h2M26 187h1M33 187h4M26 188h1M31 188h6M26 189h1M31 189h6M26 190h1M34 190h3M26 191h1M0 192h1M0 193h2M0 194h2M0 195h2M102 204h6M165 204h1M102 205h6M157 205h6M165 205h3M102 206h6M156 206h8M165 206h1M102 207h6M155 207h5M154 208h5M153 209h4M150 210h5M148 211h3"/>
</g></g>
<g filter="url(#tex2)"><g transform="translate(114,123.5) scale(5.0)" stroke-width="1.04" fill="none" shape-rendering="crispEdges">
<path stroke="#85736A" d="M55 181h1M53 182h4M53 183h3M53 184h4M53 185h3M53 186h3M53 187h3M53 188h4M55 189h1M68 197h7M66 198h10M65 199h11M64 200h13M63 201h15M63 202h18M63 203h19M63 204h19M63 205h20M63 206h19M63 207h19M64 208h17M64 209h14M65 210h12M65 211h10"/>
<path stroke="#5A5B67" d="M119 145h2M119 146h2M11 150h1M57 150h2M10 151h5M16 151h1M10 152h8M176 152h1M12 153h6M176 153h3M21 154h4M177 154h2M177 155h2M7 156h5M177 156h1M7 157h5M8 158h4M9 159h3M85 162h2M85 163h2M94 166h1M32 176h5M32 177h5M33 178h4M33 179h4M96 179h8M33 180h4M93 180h11M110 180h3M148 180h5M25 181h1M34 181h2M72 181h4M91 181h15M110 181h3M152 181h1M166 181h1M25 182h1M34 182h2M72 182h5M91 182h6M101 182h6M111 182h3M152 182h1M166 182h1M72 183h5M91 183h6M101 183h6M111 183h6M166 183h1M68 184h1M71 184h6M78 184h1M91 184h6M101 184h6M112 184h5M67 185h5M75 185h6M91 185h6M101 185h5M112 185h5M67 186h5M75 186h6M91 186h14M113 186h6M170 186h1M50 187h1M67 187h14M90 187h15M114 187h4M170 187h1M37 188h3M47 188h4M67 188h3M73 188h9M90 188h16M137 188h3M37 189h3M46 189h5M66 189h5M73 189h8M84 189h22M119 189h9M138 189h4M149 189h2M37 190h3M44 190h7M67 190h14M88 190h1M92 190h14M119 190h10M138 190h5M144 190h8M37 191h3M43 191h5M51 191h2M67 191h13M92 191h14M119 191h10M137 191h1M140 191h3M144 191h9M36 192h6M43 192h4M51 192h2M67 192h13M89 192h1M91 192h14M120 192h9M137 192h1M139 192h3M145 192h8M156 192h2M35 193h6M46 193h1M62 193h8M73 193h6M89 193h16M122 193h7M137 193h5M145 193h1M149 193h4M156 193h2M35 194h2M40 194h2M46 194h2M61 194h9M73 194h6M87 194h18M123 194h6M133 194h1M135 194h11M149 194h10M5 195h4M34 195h3M41 195h1M46 195h2M51 195h4M58 195h7M67 195h12M86 195h19M123 195h6M132 195h14M150 195h11M6 196h3M24 196h2M35 196h7M44 196h3M50 196h15M67 196h12M85 196h20M123 196h5M130 196h16M150 196h11M30 197h2M35 197h30M67 197h1M75 197h15M91 197h1M95 197h10M123 197h5M132 197h5M139 197h5M150 197h6M160 197h1M30 198h2M35 198h10M48 198h18M76 198h1M81 198h10M95 198h6M123 198h5M133 198h3M139 198h5M152 198h5M35 199h4M41 199h3M48 199h17M76 199h1M81 199h10M93 199h8M109 199h5M123 199h5M133 199h3M139 199h5M149 199h1M152 199h4M10 200h4M21 200h2M35 200h3M42 200h3M48 200h16M81 200h20M109 200h7M123 200h5M132 200h4M139 200h2M145 200h1M148 200h8M10 201h3M35 201h4M41 201h4M47 201h16M78 201h17M97 201h1M109 201h8M127 201h14M145 201h1M148 201h3M154 201h2M10 202h4M23 202h1M35 202h5M42 202h2M48 202h15M81 202h14M97 202h1M109 202h9M129 202h13M144 202h2M148 202h3M154 202h1M11 203h4M23 203h1M35 203h5M42 203h2M48 203h2M53 203h2M60 203h3M82 203h13M97 203h1M109 203h3M116 203h1M132 203h12M148 203h1M151 203h3M12 204h4M23 204h1M37 204h8M48 204h2M53 204h2M62 204h1M82 204h2M86 204h12M109 204h3M116 204h1M123 204h3M131 204h1M135 204h7M147 204h1M8 205h4M13 205h4M18 205h1M26 205h1M37 205h8M46 205h9M62 205h1M87 205h5M109 205h3M116 205h1M122 205h5M131 205h1M137 205h3M9 206h3M14 206h7M26 206h1M35 206h17M54 206h2M60 206h3M87 206h3M109 206h3M116 206h2M122 206h1M131 206h1M138 206h2M9 207h3M16 207h5M35 207h15M60 207h3M108 207h9M122 207h1M131 207h1M138 207h2M9 208h3M19 208h1M35 208h5M46 208h3M59 208h5M87 208h3M107 208h6M122 208h1M138 208h2M10 209h3M35 209h5M46 209h4M54 209h2M57 209h4M78 209h1M107 209h3M122 209h1M127 209h2M138 209h2M11 210h2M36 210h4M46 210h14M77 210h1M122 210h1M127 210h2M144 210h2M35 211h26M64 211h1M75 211h3M81 211h1M84 211h2M89 211h3M93 211h2M97 211h1M99 211h1M101 211h47"/>
<path stroke="#6C6872" d="M150 2h1M150 3h4M159 3h2M142 4h1M150 4h4M159 4h2M117 5h2M142 5h1M117 6h2M168 7h1M168 8h1M144 11h1M168 11h1M168 12h1M142 14h1M145 15h2M121 16h4M145 16h2M169 17h2M169 18h2M33 19h1M35 19h1M33 20h4M30 21h8M85 23h2M19 24h2M78 24h1M83 24h7M19 25h4M78 25h13M139 25h2M18 26h6M81 26h9M139 26h2M18 27h5M86 27h4M18 28h5M88 28h2M134 28h2M19 29h2M135 29h4M19 30h2M136 30h4M137 31h3M138 32h1M36 33h1M37 34h1M38 35h1M98 40h2M26 41h2M97 41h3M103 41h3M26 42h2M98 42h2M103 42h3M79 43h5M98 43h2M76 44h11M98 44h2M75 45h12M74 46h13M45 47h5M74 47h1M77 47h9M143 47h4M44 48h6M77 48h1M44 49h6M77 49h1M82 49h1M47 50h1M112 50h1M45 54h3M42 55h5M103 55h1M43 56h4M103 56h1M109 56h1M41 57h4M42 58h2M55 60h2M90 60h3M55 61h2M90 61h3M90 62h4M90 63h2M93 63h1M27 72h1M22 74h1M23 75h2M25 77h2M35 81h2M122 81h1M7 82h1M35 82h3M103 82h1M106 82h1M119 82h5M36 83h3M120 83h5M120 84h5M111 89h3M111 90h3M121 96h1M121 97h1M90 98h5M89 99h8M111 99h2M116 99h1M89 100h5M97 100h1M115 100h2M90 101h5M97 101h3M115 101h2M91 102h9M115 102h2M91 103h8M92 104h7M108 104h4M161 104h2M93 105h7M109 105h4M160 105h4M111 106h2M127 106h3M161 106h3M128 107h2M161 107h3M32 108h1M161 108h2M169 108h2M31 109h3M162 109h2M167 109h5M133 110h2M163 110h1M167 110h1M170 110h2M133 111h3M164 111h1M166 111h1M171 111h1M134 112h4M166 112h1M42 113h3M114 113h2M135 113h1M168 113h1M42 114h3M114 114h2M52 115h1M74 117h1M75 118h1M166 118h1M165 119h3M34 120h2M143 120h4M165 120h4M34 121h2M143 121h5M166 121h4M143 122h5M167 122h1M169 122h1M175 122h4M64 123h2M127 123h5M145 123h2M175 123h4M63 124h3M119 124h3M124 124h13M176 124h3M63 125h3M119 125h3M124 125h14M48 126h1M63 126h3M119 126h7M132 126h7M50 127h1M132 127h7M127 128h1M129 128h3M134 128h5M54 129h1M126 129h6M134 129h4M127 130h10M109 131h5M128 131h9M109 132h5M129 132h9M110 133h4M128 133h2M137 133h1M128 134h2M128 135h2M128 136h1M101 137h4M101 138h4M119 138h3M124 138h1M161 138h6M102 139h3M107 139h1M110 139h1M118 139h8M161 139h6M103 140h7M119 140h10M105 141h2M120 141h10M121 142h7M89 151h11M90 152h9M94 153h2M97 153h1M84 164h7M99 164h4M84 165h9M98 165h6M85 166h9M96 166h9M85 167h21M122 167h1M87 168h5M97 168h9M78 169h3M88 169h4M97 169h9M77 170h5M90 170h2M97 170h9M111 170h1M76 171h5M93 171h14M111 171h2M128 171h1M76 172h6M95 172h12M111 172h2M134 172h3M76 173h5M96 173h21M130 173h1M133 173h4M70 174h2M75 174h7M97 174h24M130 174h1M135 174h3M37 175h1M75 175h7M91 175h1M98 175h24M125 175h6M135 175h3M37 176h1M66 176h3M75 176h7M87 176h6M99 176h9M111 176h15M129 176h2M135 176h2M37 177h1M65 177h4M74 177h7M84 177h9M101 177h4M111 177h15M129 177h2M134 177h3M37 178h1M43 178h2M66 178h15M84 178h10M101 178h3M111 178h6M119 178h7M129 178h8M37 179h1M43 179h2M67 179h13M84 179h3M91 179h3M111 179h6M118 179h1M122 179h14M50 180h1M69 180h1M72 180h1M75 180h5M84 180h3M91 180h2M108 180h2M117 180h1M123 180h9M133 180h1M50 181h1M59 181h2M84 181h3M106 181h4M117 181h1M123 181h6M133 181h1M59 182h3M85 182h6M107 182h4M117 182h2M122 182h2M127 182h3M133 182h1M60 183h3M86 183h5M107 183h4M119 183h4M127 183h3M60 184h3M87 184h4M107 184h5M121 184h2M127 184h4M42 185h3M62 185h1M87 185h1M89 185h2M106 185h6M121 185h3M127 185h2M39 186h5M107 186h6M121 186h3M126 186h2M40 187h2M107 187h7M118 187h6M126 187h1M107 188h10M121 188h2M124 188h1M106 189h4M106 190h2"/>
<path stroke="#2C3C42" d="M176 47h1M143 48h4M175 48h4M143 49h5M151 49h2M175 49h4M143 50h5M152 50h1M171 50h1M174 50h1M133 51h1M143 51h5M152 51h1M171 51h5M133 52h2M143 52h4M152 52h1M171 52h5M89 53h1M133 53h2M143 53h2M154 53h4M171 53h4M89 54h2M133 54h2M143 54h3M149 54h2M154 54h2M172 54h3M89 55h1M143 55h4M148 55h3M154 55h2M89 56h2M143 56h1M149 56h2M154 56h2M141 57h4M154 57h3M137 58h4M143 58h2M147 58h1M156 58h3M140 59h1M143 59h2M147 59h1M156 59h2M141 60h4M148 60h1M160 60h1M141 61h3M148 61h1M157 61h4M142 62h1M158 62h3M111 63h2M143 63h1M112 64h1M143 64h1M112 65h2M143 65h1M112 66h1M140 66h4M168 66h1M140 67h6M151 67h2M154 67h1M167 67h1M105 68h2M124 68h7M140 68h1M145 68h2M151 68h5M165 68h2M124 69h7M140 69h1M145 69h2M152 69h4M164 69h1M166 69h1M124 70h2M129 70h2M140 70h1M144 70h3M152 70h7M165 70h1M124 71h2M141 71h5M152 71h7M141 72h4M154 72h5M143 73h1M147 73h5M130 74h4M140 74h1M151 74h1M113 75h2M129 75h6M137 75h2M140 75h1M151 75h1M113 76h4M129 76h1M131 76h6M140 76h1M114 77h3M129 77h3M133 77h3M140 77h1M162 77h1M101 78h1M103 78h1M115 78h2M129 78h4M134 78h2M140 78h1M161 78h1M101 79h4M114 79h3M130 79h6M160 79h1M101 80h3M115 80h1M130 80h3M157 80h3M101 81h3M131 81h3M151 81h6M159 81h1M104 82h2M131 82h2M153 82h1M159 82h1M104 83h3M128 83h6M153 83h1M159 83h1M92 84h1M105 84h3M132 84h1M153 84h1M92 85h4M106 85h3M92 86h4M107 86h2M92 87h5M93 88h4M93 89h4M124 89h2M91 90h3M124 90h2M91 91h2M90 92h3M91 93h3M168 96h2M137 97h3M168 97h2M101 98h1M103 98h1M101 99h3M101 100h3M117 100h2M101 101h3M117 101h2M121 101h1M142 101h2M101 102h3M121 102h2M144 102h1M121 103h2M131 103h3M145 103h1M121 104h5M132 104h3M139 104h3M147 104h1M171 104h4M123 105h3M138 105h5M149 105h1M171 105h4M138 106h5M170 106h5M117 107h3M139 107h4M172 107h2M117 108h3M140 108h1M147 110h1M146 111h2M151 111h4M144 112h4M152 112h5M140 113h3M144 113h3M154 113h4M169 113h2M144 114h4M149 114h1M155 114h4M170 114h3M144 115h7M170 115h3M148 116h3M171 116h2M176 116h3M176 117h3M176 118h3M97 119h4M176 119h3M98 120h3M98 121h3M73 125h5M73 126h5M73 127h5M133 133h4M133 134h4M121 136h3M121 137h3M122 138h2M148 145h1M97 147h4M98 148h3M98 149h3M122 149h5M97 150h1M100 150h1M122 150h5M122 151h5M113 154h3M113 155h3M113 156h2M111 157h1M133 164h2M95 165h2M133 165h2M95 166h1M133 166h2M172 203h5M170 204h7M170 205h7M170 206h7M170 207h7M102 208h3M171 208h6M103 209h2M171 209h6M173 210h3"/>
</g></g>
<g transform="translate(114,123.5) scale(5.0)" stroke-width="1.04" fill="none" shape-rendering="crispEdges">
<path stroke="#FFB000" d="M48 2h2M169 2h1M45 3h1M51 3h2M162 3h1M45 4h1M51 4h2M148 6h1M65 7h1M65 8h1M142 8h2M65 9h1M142 9h2M152 9h3M49 10h2M148 10h1M151 10h3M49 11h2M148 11h1M151 11h4M169 11h3M151 12h4M169 12h3M160 13h2M165 13h2M151 14h2M165 14h2M16 15h2M151 15h2M16 16h2M25 16h1M154 16h2M177 16h2M16 17h2M158 17h3M158 18h3M174 18h2M62 19h2M66 19h2M158 19h3M62 20h4M67 20h1M166 20h4M178 20h1M63 21h4M161 21h3M166 21h4M174 21h2M178 21h1M64 22h1M166 22h4M174 22h2M171 25h3M80 26h1M171 26h3M177 26h2M79 27h2M141 27h2M146 27h2M173 27h1M177 27h2M79 28h2M141 28h2M146 28h2M168 28h8M177 28h2M38 29h2M168 29h8M177 29h2M38 30h2M169 30h2M172 30h2M177 30h2M171 31h1M162 33h3M72 34h1M162 34h3M72 35h1M177 36h2M177 37h2M58 38h1M177 38h2M72 39h2M76 39h1M71 40h3M62 42h2M68 43h2M77 43h2M169 43h2M33 44h1M153 44h2M169 44h2M153 45h2M38 46h2M90 46h1M38 47h2M75 47h2M87 47h13M36 48h2M75 48h2M84 48h12M98 48h2M172 48h3M36 49h2M83 49h17M172 49h3M18 50h2M83 50h4M88 50h2M98 50h1M166 50h5M172 50h2M7 51h1M45 51h1M87 51h3M97 51h2M166 51h5M7 52h1M87 52h3M97 52h2M166 52h5M97 53h1M99 53h2M167 53h3M78 54h8M98 54h3M123 54h1M163 54h3M169 54h1M77 55h3M81 55h6M98 55h3M163 55h3M76 56h11M163 56h1M165 56h1M171 56h3M76 57h1M78 57h3M82 57h5M163 57h3M171 57h3M75 58h3M80 58h7M97 58h4M152 58h3M159 58h2M171 58h1M75 59h3M79 59h4M97 59h1M100 59h1M139 59h1M153 59h1M159 59h2M171 59h1M174 59h1M61 60h2M65 60h2M75 60h1M78 60h5M97 60h1M100 60h1M139 60h2M152 60h3M171 60h3M61 61h2M65 61h2M69 61h1M75 61h6M82 61h1M97 61h4M139 61h2M149 61h3M153 61h1M155 61h1M171 61h3M56 62h3M65 62h2M69 62h1M74 62h6M83 62h1M97 62h4M139 62h1M148 62h1M150 62h2M154 62h2M172 62h2M36 63h1M56 63h3M72 63h1M74 63h1M77 63h3M81 63h4M98 63h3M148 63h1M71 64h3M75 64h1M78 64h2M81 64h2M84 64h3M99 64h2M148 64h1M67 65h3M71 65h3M75 65h1M78 65h9M99 65h2M175 65h3M39 66h1M41 66h2M67 66h3M71 66h1M75 66h2M79 66h4M84 66h1M99 66h2M173 66h2M178 66h1M67 67h3M71 67h3M75 67h2M78 67h2M99 67h2M173 67h6M74 68h3M78 68h2M83 68h1M99 68h2M173 68h3M178 68h1M74 69h2M79 69h1M99 69h2M174 69h2M178 69h1M74 70h6M99 70h2M150 70h1M174 70h5M67 71h2M74 71h1M76 71h2M79 71h2M97 71h4M175 71h4M67 72h2M73 72h4M78 72h3M97 72h1M100 72h1M74 73h7M97 73h1M100 73h1M159 73h3M171 73h2M73 74h2M76 74h5M84 74h2M97 74h1M100 74h1M159 74h3M74 75h1M76 75h5M83 75h1M85 75h1M97 75h4M160 75h3M74 76h4M80 76h1M84 76h2M76 77h5M164 77h1M97 78h2M145 78h2M163 78h2M156 79h4M163 79h2M173 79h4M47 80h1M73 80h2M77 80h1M79 80h2M82 80h5M92 80h1M170 80h1M173 80h5M71 81h2M75 81h4M82 81h10M117 81h1M173 81h4M178 81h1M43 82h2M70 82h3M75 82h4M82 82h5M88 82h4M177 82h1M67 83h8M77 83h4M85 83h4M91 83h1M66 84h8M75 84h2M79 84h8M53 85h2M66 85h6M73 85h1M76 85h1M79 85h5M86 85h1M175 85h1M53 86h2M68 86h19M53 87h2M70 87h5M77 87h2M125 87h1M5 88h1M71 88h4M77 88h1M79 88h1M125 88h1M163 88h2M71 89h6M78 89h2M40 90h2M71 90h1M74 90h1M77 90h3M71 91h1M74 91h7M71 92h6M78 92h2M71 93h5M78 93h2M74 94h1M77 94h3M62 95h2M74 95h5M149 95h5M62 96h2M71 96h4M149 96h1M153 96h1M65 97h2M149 97h4M156 97h1M158 97h4M175 97h3M65 98h2M75 98h1M117 98h5M126 98h2M155 98h3M159 98h2M175 98h1M177 98h1M65 99h2M117 99h5M126 99h2M155 99h2M160 99h2M175 99h3M154 100h4M159 100h3M163 100h3M69 101h12M155 101h3M159 101h2M168 101h2M45 102h2M69 102h3M73 102h2M77 102h1M80 102h1M157 102h1M160 102h1M169 102h2M39 103h2M44 103h3M69 103h6M77 103h1M80 103h1M157 103h3M163 103h8M39 104h2M44 104h1M46 104h1M60 104h4M69 104h9M80 104h1M156 104h4M163 104h1M169 104h2M39 105h2M44 105h3M57 105h2M61 105h2M70 105h2M73 105h2M79 105h2M156 105h4M164 105h2M167 105h4M175 105h2M39 106h2M45 106h2M57 106h2M61 106h1M70 106h10M156 106h5M166 106h4M175 106h2M56 107h3M73 107h1M75 107h4M131 107h1M156 107h5M166 107h4M175 107h2M56 108h3M72 108h6M128 108h4M134 108h4M156 108h5M57 109h1M72 109h6M128 109h4M134 109h5M157 109h5M72 110h8M123 110h2M129 110h1M136 110h2M159 110h1M51 111h2M72 111h4M77 111h3M123 111h1M47 112h2M51 112h2M61 112h5M72 112h8M102 112h2M33 113h2M36 113h1M46 113h4M67 113h2M72 113h1M75 113h3M79 113h2M33 114h2M36 114h1M46 114h1M67 114h2M73 114h1M75 114h3M80 114h1M74 115h1M76 115h2M79 115h1M164 115h1M173 115h1M22 116h2M74 116h2M79 116h2M141 116h2M164 116h2M173 116h2M24 117h2M75 117h2M79 117h1M131 117h3M141 117h2M159 117h2M164 117h2M173 117h2M33 118h2M71 118h4M76 118h3M131 118h3M150 118h3M157 118h4M164 118h2M173 118h2M33 119h2M71 119h4M131 119h2M150 119h1M152 119h1M157 119h1M173 119h1M19 120h4M71 120h1M73 120h2M150 120h1M152 120h1M16 121h7M71 121h1M73 121h2M151 121h2M16 122h3M20 122h3M72 122h3M99 122h1M16 123h4M72 123h4M98 123h3M162 123h4M73 124h4M98 124h3M141 124h2M163 124h3M60 125h1M98 125h3M163 125h3M60 126h1M98 126h3M172 126h4M98 127h3M168 127h2M172 127h4M132 128h2M168 128h2M15 129h2M67 129h1M95 129h4M132 129h2M164 129h3M168 129h2M51 130h2M73 130h7M95 130h3M164 130h3M172 130h6M73 131h5M79 131h1M96 131h2M164 131h2M173 131h1M175 131h3M69 132h1M73 132h7M96 132h3M173 132h5M70 133h2M73 133h5M97 133h1M174 133h1M20 134h2M39 134h1M70 134h6M161 134h2M175 134h1M20 135h2M70 135h1M72 135h1M126 135h2M175 135h2M16 136h3M71 136h1M126 136h2M175 136h2M97 137h3M175 137h2M82 138h2M98 138h1M175 138h1M82 139h2M91 140h1M90 141h5M93 142h4M93 143h1M96 143h1M98 143h3M24 144h2M69 144h2M93 144h1M95 144h2M98 144h3M72 145h5M94 145h3M98 145h3M145 145h1M161 145h5M72 146h5M145 146h4M161 146h5M48 147h2M71 147h7M145 147h5M73 148h5M94 148h4M145 148h2M148 148h2M152 148h1M73 149h5M94 149h4M146 149h1M149 149h1M151 149h2M74 150h1M137 150h3M146 150h2M149 150h1M151 150h4M137 151h3M148 151h1M152 151h3M137 152h1M139 152h2M152 152h1M154 152h1M38 153h1M135 153h1M138 153h3M152 153h1M154 153h1M173 153h2M36 154h3M92 154h2M134 154h2M153 154h2M169 154h2M173 154h2M36 155h3M63 155h3M89 155h3M93 155h2M169 155h2M173 155h2M63 156h3M90 156h3M147 156h3M173 156h2M48 157h1M63 157h3M75 157h3M89 157h1M91 157h1M147 157h2M35 158h2M48 158h1M75 158h3M90 158h2M148 158h1M35 159h2M78 159h3M90 159h2M156 159h2M35 160h2M48 160h1M78 160h3M48 161h1M67 161h2M23 162h3M48 162h1M67 162h2M150 162h3M157 162h2M163 162h1M23 163h1M25 163h1M52 163h3M150 163h3M157 163h2M163 163h1M23 164h3M140 164h1M147 164h1M50 165h3M139 165h3M147 165h1M50 166h3M139 166h3M48 167h1M56 167h2M79 167h2M139 167h1M48 168h2M56 168h2M79 168h1M138 168h1M134 169h2M159 169h2M178 169h1M33 170h2M44 170h1M60 170h2M132 170h3M174 170h5M33 171h2M60 171h2M82 171h2M133 171h3M151 171h1M174 171h2M178 171h1M57 172h1M60 172h2M82 172h2M175 172h1M178 172h1M70 173h2M82 173h2M141 173h3M176 173h1M178 173h1M31 174h2M45 174h1M74 174h1M141 174h1M143 174h1M170 174h3M175 174h1M177 174h2M31 175h2M133 175h2M141 175h3M170 175h3M175 175h1M178 175h1M60 176h2M85 176h2M109 176h2M133 176h2M141 176h3M146 176h3M163 176h2M170 176h3M175 176h2M178 176h1M108 177h3M146 177h3M167 177h2M175 177h4M108 178h3M167 178h2M175 178h4M108 179h3M167 179h2M175 179h4M132 180h1M170 180h2M129 181h4M169 181h1M173 181h1M130 182h1M132 182h1M136 182h1M169 182h1M173 182h2M131 183h8M170 183h3M176 183h2M11 184h1M85 184h2M119 184h2M134 184h4M176 184h2M11 185h1M86 185h1M119 185h2M125 185h1M130 185h2M134 185h3M146 185h2M162 185h4M176 185h2M119 186h2M124 186h2M130 186h2M134 186h1M145 186h2M148 186h1M153 186h2M162 186h2M176 186h2M124 187h2M130 187h2M145 187h4M153 187h2M162 187h2M166 187h1M153 188h2M162 188h2M166 188h1M44 189h2M162 189h4M65 190h2M158 190h2M164 190h1M63 191h4M138 191h2M158 191h2M42 192h1M63 192h4M138 192h1M158 192h1M160 192h1M41 193h2M51 193h2M146 193h3M158 193h2M51 194h2M147 194h2M159 194h2M170 194h1M9 195h1M65 195h2M170 195h1M9 196h1M65 196h2M65 197h2M137 197h2M144 197h2M136 198h3M144 198h2M136 199h1M144 199h2M146 200h2M163 200h3M123 201h1M146 201h2M163 201h4M172 201h3M123 202h1M146 202h2M163 202h5M172 202h3M144 203h4M163 203h5M55 204h2M60 204h2M144 204h3M166 204h2M55 205h2M60 205h2M95 209h2M96 210h1"/>
<path stroke="#FF0000" d="M161 4h1M174 13h1M178 15h1M71 39h1M178 39h1M166 48h4M167 49h3M93 50h1M96 50h1M90 51h7M90 52h7M87 53h2M90 53h7M87 54h2M91 54h6M87 55h2M90 55h7M87 56h2M91 56h2M95 56h3M87 57h1M94 57h4M94 58h3M94 59h3M154 59h1M94 63h2M94 64h2M97 65h2M101 65h1M97 66h2M80 67h5M87 67h7M98 67h1M80 68h3M84 68h1M87 68h4M98 68h1M80 69h6M98 69h1M80 70h7M98 70h1M101 70h1M84 71h3M83 72h4M81 73h6M94 73h3M81 74h3M86 74h1M90 74h7M61 75h2M81 75h2M84 75h1M86 75h1M91 75h6M81 76h3M86 76h1M95 76h2M81 77h6M86 78h3M85 79h6M93 79h1M97 79h2M87 80h3M91 80h1M95 80h6M92 81h9M33 82h1M87 82h1M92 82h1M94 82h1M97 82h4M81 83h4M89 83h2M92 83h1M97 83h4M77 84h2M87 84h5M100 84h1M77 85h2M87 85h5M87 86h5M79 87h3M84 87h8M80 88h2M84 88h6M80 89h2M84 89h6M80 90h6M99 90h2M40 91h1M81 91h4M99 91h2M80 92h5M99 92h2M80 93h4M99 93h2M81 94h2M99 94h2M79 95h8M99 95h2M75 96h12M99 96h2M75 97h12M80 98h4M81 99h3M81 100h3M120 100h1M81 101h3M81 102h6M88 102h3M53 103h2M81 103h10M53 104h2M81 104h10M160 104h1M53 105h2M59 105h2M82 105h9M59 106h2M80 106h9M59 107h2M79 107h9M130 107h1M50 108h2M78 108h10M50 109h2M78 109h10M80 110h8M80 111h4M80 112h4M95 112h4M81 113h4M95 113h4M81 114h3M95 114h4M33 115h1M80 115h5M81 116h4M80 117h5M79 118h6M76 119h9M23 120h2M75 120h10M23 121h2M75 121h9M75 122h5M79 123h1M97 123h1M78 124h3M97 124h1M178 125h1M78 126h3M178 126h1M78 127h4M162 127h4M78 128h4M162 128h3M23 129h1M80 129h3M84 129h1M162 129h2M80 130h2M83 130h2M98 130h2M80 131h2M94 131h2M98 131h1M80 132h3M94 132h2M80 133h3M80 134h4M80 135h6M95 135h4M80 136h7M95 136h4M80 137h7M95 137h2M80 138h2M84 138h3M95 138h3M80 139h2M84 139h3M95 139h3M79 140h8M88 140h3M95 140h2M80 141h10M87 142h6M88 143h5M80 144h2M84 144h1M88 144h5M80 147h5M151 147h1M72 148h1M80 148h2M151 148h1M85 152h2M85 153h2M40 154h2M136 154h1M29 155h2M40 155h2M29 156h2M78 156h3M89 156h1M78 157h3M89 158h1M147 158h1M35 162h1M24 163h1M141 164h2M151 172h1M108 176h1M43 180h1M170 181h3M156 182h1M170 182h3M130 183h1M156 183h2M156 184h1M164 186h2M164 187h2M164 188h2M150 198h2M137 199h2M150 199h2M136 200h3M162 202h1M162 203h1"/>
<path stroke="#FF00E8" d="M93 56h2M96 63h2M96 64h2M94 67h4M91 68h7M88 69h10M87 70h11M87 71h5M93 71h4M88 72h4M93 72h4M89 73h5M90 80h1M93 80h2M93 82h1M95 82h2M93 83h4M93 84h4M96 85h2M96 86h1M82 87h2M82 88h2M90 88h3M82 89h2M90 89h3M98 89h1M87 90h3M97 90h2M87 91h4M87 92h3M87 93h4M87 94h4M96 94h3M87 95h4M96 95h3M87 96h1M90 96h1M98 96h1M84 98h3M84 99h3M84 100h3M94 100h3M84 101h3M95 101h2M89 106h1M88 107h2M88 108h2M94 108h1M88 109h2M92 109h3M88 110h4M84 111h3M89 111h3M84 112h3M92 112h1M85 113h2M84 114h3M92 114h1M85 115h2M92 115h4M85 116h2M93 116h4M85 117h2M93 117h3M85 118h2M93 118h4M85 119h2M85 120h2M84 121h3M83 122h2M95 122h3M83 123h2M95 123h2M81 124h4M79 125h3M91 128h4M91 129h4M82 130h1M91 130h4M82 131h3M92 131h2M83 132h2M83 133h2M84 134h1M89 134h4M86 135h1M89 135h5M89 136h5M89 137h4M89 138h4M85 142h2M85 143h2M82 144h2M85 144h2M82 145h4M83 146h3M86 147h1M89 147h3M82 148h5M89 148h3M80 149h7M80 150h9M79 151h10M79 152h6M80 153h5M175 153h1M83 154h1M85 154h2M175 154h2M175 155h2M87 156h2M87 157h2M87 158h2M88 159h1"/>
<path stroke="#9911DD" d="M92 71h1M92 72h1M87 73h2M87 74h2M97 84h3M98 85h3M98 88h2M97 89h1M99 89h2M94 90h3M97 91h1M97 92h1M96 93h2M95 94h1M95 95h1M88 96h2M87 97h3M87 98h3M87 99h1M87 100h1M90 106h3M90 107h3M90 108h3M90 109h2M88 111h1M87 112h3M87 113h5M87 114h5M87 115h5M87 116h6M88 117h5M87 118h6M87 119h5M87 120h5M89 121h3M95 121h2M85 122h2M90 122h2M85 123h2M90 123h2M85 124h2M91 124h1M90 127h2M86 128h1M90 128h1M85 129h2M89 129h2M85 130h2M89 130h2M85 131h7M85 132h2M88 132h4M85 133h2M88 133h2M85 134h2M87 147h2M87 148h2M87 149h2"/>
<path stroke="#0011B3" d="M97 86h3M97 87h4M97 88h1M93 91h4M93 92h4M94 93h2M92 113h2M93 114h1M87 121h2M87 122h3M87 123h3M87 124h4M87 125h3M87 126h3M87 127h3M87 128h3M87 129h2M87 130h2"/>
</g>
</g>
</g>
<!-- ticks -->
<g stroke="#1c1c1c" stroke-width="3" fill="none">
<line x1="200.3" y1="111.5" x2="200.3" y2="120"/>
<line x1="843.7" y1="111.5" x2="843.7" y2="120"/>
<line x1="200.3" y1="1185" x2="200.3" y2="1194"/>
<line x1="843.7" y1="1185" x2="843.7" y2="1194"/>
<line x1="105" y1="325.6" x2="114" y2="325.6"/>
<line x1="105" y1="969.8" x2="114" y2="969.8"/>
<line x1="1016" y1="325.6" x2="1023" y2="325.6"/>
<line x1="1016" y1="969.8" x2="1023" y2="969.8"/>
</g>
<rect x="114.3" y="120.3" width="901" height="1063.9" fill="none" stroke="#101010" stroke-width="3.8"/>
<!-- working face outline -->
<rect x="550.3" y="372.8" width="69.2" height="560" fill="none" stroke="#0a0a0a" stroke-width="2.6"/>
<!-- legend -->
<text x="1038.5" y="456.8" font-size="59.55" font-weight="bold">Average subsidence velocity</text>
<rect x="1038.2" y="505.5" width="119" height="59.5" fill="#fff" stroke="#000" stroke-width="1.6"/>
<text x="1180" y="549" font-size="42">Working face</text>
<text x="1038.5" y="620.5" font-size="51.1">&lt;Unit:mm/y&gt;</text>
<rect x="1038.2" y="647.7" width="119" height="59.6" fill="#0011B3" stroke="#767676" stroke-width="1.2"/>
<text x="1178.5" y="693.4" font-size="42.3">−60 – −50</text>
<rect x="1038.2" y="728.6" width="119" height="59.6" fill="#9911DD" stroke="#767676" stroke-width="1.2"/>
<text x="1178.5" y="774.3" font-size="42.3">−50 – −40</text>
<rect x="1038.2" y="809.4" width="119" height="59.6" fill="#FF00E8" stroke="#767676" stroke-width="1.2"/>
<text x="1178.5" y="855.1" font-size="42.3">−40 – −30</text>
<rect x="1038.2" y="890.2" width="119" height="59.6" fill="#FF0000" stroke="#767676" stroke-width="1.2"/>
<text x="1178.5" y="936.0" font-size="42.3">−30 – −20</text>
<rect x="1038.2" y="971.1" width="119" height="59.6" fill="#FFB600" stroke="#767676" stroke-width="1.2"/>
<text x="1178.5" y="1016.8" font-size="42.3">−20 – −10</text>
<rect x="1038.2" y="1052.0" width="119" height="59.6" fill="#FFFA33" stroke="#767676" stroke-width="1.2"/>
<text x="1178.5" y="1097.7" font-size="42.3">−10 – 0</text>
<rect x="1038.2" y="1132.8" width="119" height="58.3" fill="#F4F19F" stroke="#767676" stroke-width="1.2"/>
<text x="1178.5" y="1178.5" font-size="42.3">No subsidence</text>
</svg>
</body>
</html>
